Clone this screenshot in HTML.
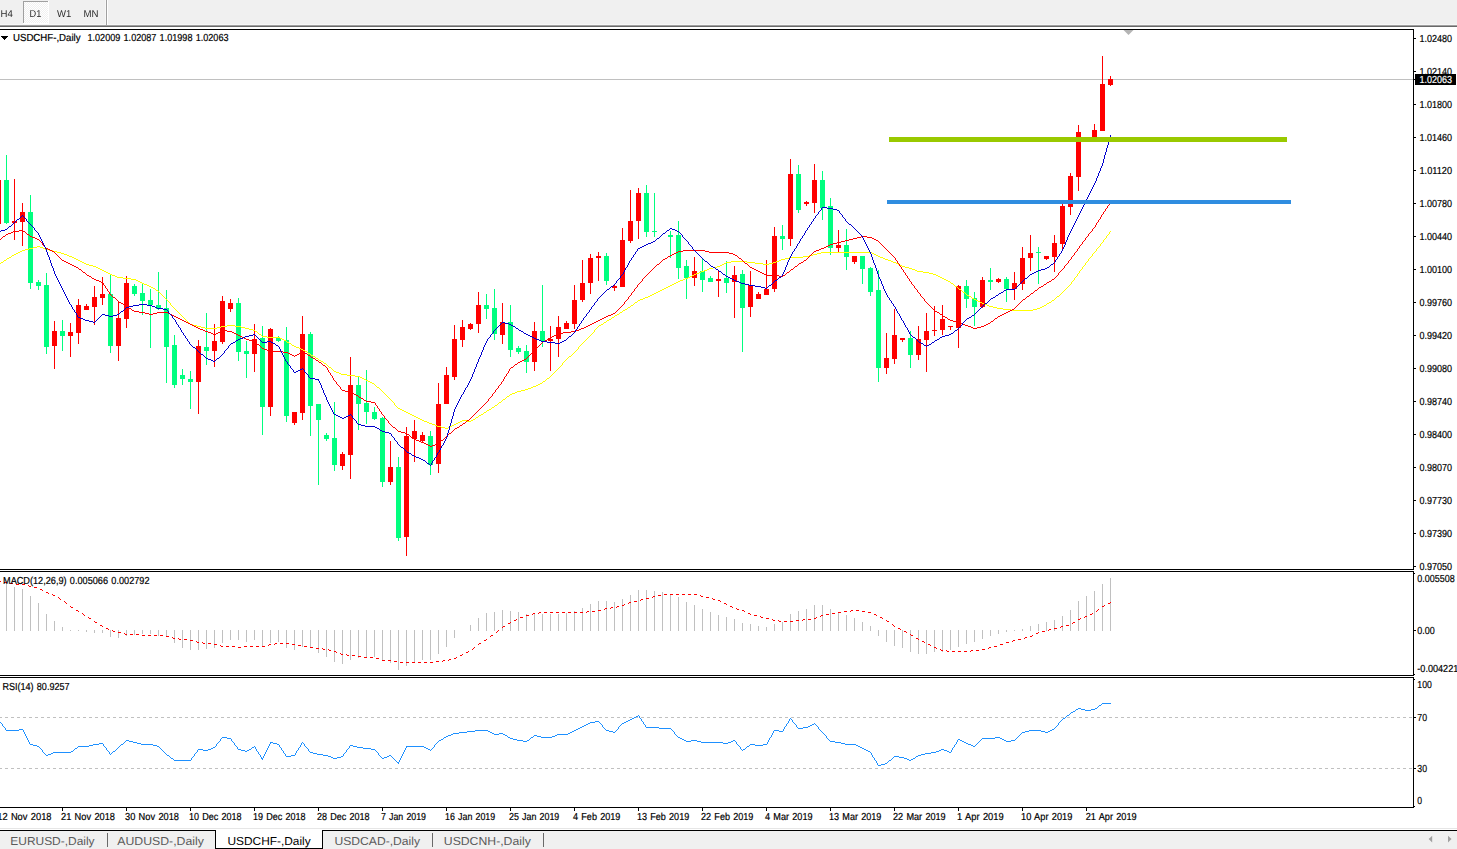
<!DOCTYPE html>
<html><head><meta charset="utf-8"><title>USDCHF-,Daily</title>
<style>
html,body{margin:0;padding:0;background:#fff;}
body{width:1457px;height:849px;overflow:hidden;position:relative;font-family:"Liberation Sans",sans-serif;}
svg{position:absolute;left:0;top:0;}
text{text-rendering:geometricPrecision;}
.t{font-family:"Liberation Sans",sans-serif;font-size:10.2px;fill:#000;stroke:#000;stroke-width:0.2px;word-spacing:0.8px;}
.tab{font-family:"Liberation Sans",sans-serif;font-size:11.6px;fill:#5a5a5a;}
.tf{font-family:"Liberation Sans",sans-serif;font-size:10px;fill:#2c2c2c;}
</style></head><body>
<svg width="1457" height="849" viewBox="0 0 1457 849">

<g shape-rendering="crispEdges">
<rect x="0" y="0" width="1457" height="25" fill="#f0f0f0"/>
<rect x="0" y="25" width="1457" height="1" fill="#a0a0a0"/>
<rect x="0" y="26" width="1457" height="1" fill="#696969"/>
<defs><pattern id="hatch" x="0" y="0" width="2" height="2" patternUnits="userSpaceOnUse"><rect x="0" y="0" width="2" height="2" fill="#f0f0f0"/><rect x="0" y="0" width="1" height="1" fill="#fff"/><rect x="1" y="1" width="1" height="1" fill="#fff"/></pattern></defs>
<rect x="24" y="2" width="24" height="21" fill="url(#hatch)"/>
<rect x="23" y="1" width="25" height="1" fill="#a0a0a0"/>
<rect x="23" y="1" width="1" height="22" fill="#a0a0a0"/>
<rect x="48" y="1" width="1" height="23" fill="#ffffff"/>
<rect x="23" y="23" width="26" height="1" fill="#ffffff"/>
<rect x="0" y="24" width="1457" height="1" fill="#f7f7f7"/>
<rect x="105" y="0" width="1" height="24" fill="#f7f7f7"/>
<rect x="106" y="0" width="1" height="25" fill="#a0a0a0"/>
<rect x="107" y="0" width="1" height="25" fill="#ffffff"/>
<rect x="0" y="29" width="1414" height="1" fill="#000"/>
<rect x="1413" y="29" width="1" height="541" fill="#000"/>
<rect x="0" y="569" width="1414" height="1" fill="#000"/>
<rect x="0" y="571" width="1414" height="1" fill="#000"/>
<rect x="1413" y="571" width="1" height="105" fill="#000"/>
<rect x="0" y="675" width="1414" height="1" fill="#000"/>
<rect x="0" y="677" width="1414" height="1" fill="#000"/>
<rect x="1413" y="677" width="1" height="131" fill="#000"/>
<rect x="0" y="807" width="1414" height="1" fill="#000"/>
<rect x="0" y="828" width="1457" height="1" fill="#e6e6e6"/>
<rect x="0" y="831" width="1457" height="18" fill="#f0f0f0"/>
<rect x="0" y="830" width="216" height="1" fill="#000"/>
<rect x="322" y="830" width="1135" height="1" fill="#000"/>
<rect x="216" y="829" width="106" height="19" fill="#fff"/>
<rect x="215" y="830" width="1" height="19" fill="#000"/>
<rect x="322" y="830" width="1" height="19" fill="#000"/>
<rect x="215" y="848" width="108" height="1" fill="#000"/>
<rect x="107" y="833" width="1" height="14" fill="#6a6a6a"/>
<rect x="432" y="833" width="1" height="14" fill="#6a6a6a"/>
<rect x="543" y="833" width="1" height="14" fill="#6a6a6a"/>
<rect x="0" y="79" width="1413" height="1" fill="#c0c0c0"/>
<rect x="1414" y="38" width="2" height="1" fill="#000"/>
<rect x="1414" y="71" width="2" height="1" fill="#000"/>
<rect x="1414" y="104" width="2" height="1" fill="#000"/>
<rect x="1414" y="137" width="2" height="1" fill="#000"/>
<rect x="1414" y="170" width="2" height="1" fill="#000"/>
<rect x="1414" y="203" width="2" height="1" fill="#000"/>
<rect x="1414" y="236" width="2" height="1" fill="#000"/>
<rect x="1414" y="269" width="2" height="1" fill="#000"/>
<rect x="1414" y="302" width="2" height="1" fill="#000"/>
<rect x="1414" y="335" width="2" height="1" fill="#000"/>
<rect x="1414" y="368" width="2" height="1" fill="#000"/>
<rect x="1414" y="401" width="2" height="1" fill="#000"/>
<rect x="1414" y="434" width="2" height="1" fill="#000"/>
<rect x="1414" y="467" width="2" height="1" fill="#000"/>
<rect x="1414" y="500" width="2" height="1" fill="#000"/>
<rect x="1414" y="533" width="2" height="1" fill="#000"/>
<rect x="1414" y="566" width="2" height="1" fill="#000"/>
<rect x="1414" y="573" width="1" height="1" fill="#000"/>
<rect x="1414" y="630" width="2" height="1" fill="#000"/>
<rect x="1414" y="674" width="1" height="1" fill="#000"/>
<rect x="1414" y="679" width="1" height="1" fill="#000"/>
<rect x="1414" y="717" width="2" height="1" fill="#000"/>
<rect x="1414" y="768" width="2" height="1" fill="#000"/>
<rect x="1414" y="806" width="1" height="1" fill="#000"/>
<rect x="62" y="808" width="1" height="3" fill="#000"/>
<rect x="126" y="808" width="1" height="3" fill="#000"/>
<rect x="190" y="808" width="1" height="3" fill="#000"/>
<rect x="254" y="808" width="1" height="3" fill="#000"/>
<rect x="318" y="808" width="1" height="3" fill="#000"/>
<rect x="382" y="808" width="1" height="3" fill="#000"/>
<rect x="446" y="808" width="1" height="3" fill="#000"/>
<rect x="510" y="808" width="1" height="3" fill="#000"/>
<rect x="574" y="808" width="1" height="3" fill="#000"/>
<rect x="638" y="808" width="1" height="3" fill="#000"/>
<rect x="702" y="808" width="1" height="3" fill="#000"/>
<rect x="766" y="808" width="1" height="3" fill="#000"/>
<rect x="830" y="808" width="1" height="3" fill="#000"/>
<rect x="894" y="808" width="1" height="3" fill="#000"/>
<rect x="958" y="808" width="1" height="3" fill="#000"/>
<rect x="1022" y="808" width="1" height="3" fill="#000"/>
<rect x="1086" y="808" width="1" height="3" fill="#000"/>
<rect x="1415" y="74" width="41" height="11" fill="#000"/>
<rect x="1414" y="79" width="1" height="1" fill="#000"/>
</g>
<polygon points="1123.5,30 1133.5,30 1128.5,35" fill="#b4b4b4"/>
<polygon points="1,36 8,36 4.5,40" fill="#000" shape-rendering="crispEdges"/>
<polygon points="1432.2,835.8 1432.2,842.4 1428.7,839.1" fill="#a0a0a0"/>
<polygon points="1448,835.8 1448,842.4 1451.5,839.1" fill="#a0a0a0"/>
<g shape-rendering="crispEdges" fill="none">
<line x1="-1" y1="717.5" x2="1413" y2="717.5" stroke="#c0c0c0" stroke-width="1" stroke-dasharray="3,3"/>
<line x1="-1" y1="768.5" x2="1413" y2="768.5" stroke="#c0c0c0" stroke-width="1" stroke-dasharray="3,3"/>
</g>
<g shape-rendering="crispEdges">
<rect x="-4" y="180" width="5" height="44" fill="#ff0000"/>
<rect x="6" y="155" width="1" height="69" fill="#00ff7f"/>
<rect x="4" y="180" width="5" height="43" fill="#00ff7f"/>
<rect x="14" y="179" width="1" height="61" fill="#ff0000"/>
<rect x="12" y="221" width="5" height="2" fill="#ff0000"/>
<rect x="22" y="203" width="1" height="43" fill="#ff0000"/>
<rect x="20" y="212" width="5" height="10" fill="#ff0000"/>
<rect x="30" y="195" width="1" height="94" fill="#00ff7f"/>
<rect x="28" y="212" width="5" height="71" fill="#00ff7f"/>
<rect x="38" y="280" width="1" height="10" fill="#00ff7f"/>
<rect x="36" y="282" width="5" height="4" fill="#00ff7f"/>
<rect x="46" y="273" width="1" height="81" fill="#00ff7f"/>
<rect x="44" y="285" width="5" height="62" fill="#00ff7f"/>
<rect x="54" y="321" width="1" height="48" fill="#ff0000"/>
<rect x="52" y="331" width="5" height="15" fill="#ff0000"/>
<rect x="62" y="320" width="1" height="31" fill="#00ff7f"/>
<rect x="60" y="331" width="5" height="5" fill="#00ff7f"/>
<rect x="70" y="323" width="1" height="34" fill="#ff0000"/>
<rect x="68" y="332" width="5" height="4" fill="#ff0000"/>
<rect x="78" y="299" width="1" height="45" fill="#ff0000"/>
<rect x="76" y="305" width="5" height="28" fill="#ff0000"/>
<rect x="86" y="304" width="1" height="6" fill="#ff0000"/>
<rect x="84" y="306" width="5" height="4" fill="#ff0000"/>
<rect x="94" y="286" width="1" height="39" fill="#ff0000"/>
<rect x="92" y="297" width="5" height="10" fill="#ff0000"/>
<rect x="102" y="277" width="1" height="28" fill="#ff0000"/>
<rect x="100" y="294" width="5" height="4" fill="#ff0000"/>
<rect x="110" y="274" width="1" height="79" fill="#00ff7f"/>
<rect x="108" y="294" width="5" height="52" fill="#00ff7f"/>
<rect x="118" y="301" width="1" height="60" fill="#ff0000"/>
<rect x="116" y="318" width="5" height="28" fill="#ff0000"/>
<rect x="126" y="276" width="1" height="52" fill="#ff0000"/>
<rect x="124" y="283" width="5" height="36" fill="#ff0000"/>
<rect x="134" y="284" width="1" height="12" fill="#00ff7f"/>
<rect x="132" y="286" width="5" height="8" fill="#00ff7f"/>
<rect x="142" y="284" width="1" height="31" fill="#00ff7f"/>
<rect x="140" y="293" width="5" height="8" fill="#00ff7f"/>
<rect x="150" y="289" width="1" height="59" fill="#00ff7f"/>
<rect x="148" y="300" width="5" height="5" fill="#00ff7f"/>
<rect x="158" y="272" width="1" height="38" fill="#00ff7f"/>
<rect x="156" y="305" width="5" height="4" fill="#00ff7f"/>
<rect x="166" y="290" width="1" height="93" fill="#00ff7f"/>
<rect x="164" y="308" width="5" height="39" fill="#00ff7f"/>
<rect x="174" y="335" width="1" height="53" fill="#00ff7f"/>
<rect x="172" y="345" width="5" height="40" fill="#00ff7f"/>
<rect x="182" y="369" width="1" height="16" fill="#00ff7f"/>
<rect x="180" y="375" width="5" height="4" fill="#00ff7f"/>
<rect x="190" y="371" width="1" height="38" fill="#00ff7f"/>
<rect x="188" y="379" width="5" height="3" fill="#00ff7f"/>
<rect x="198" y="340" width="1" height="74" fill="#ff0000"/>
<rect x="196" y="346" width="5" height="36" fill="#ff0000"/>
<rect x="206" y="313" width="1" height="52" fill="#00ff7f"/>
<rect x="204" y="347" width="5" height="4" fill="#00ff7f"/>
<rect x="214" y="324" width="1" height="43" fill="#ff0000"/>
<rect x="212" y="341" width="5" height="10" fill="#ff0000"/>
<rect x="222" y="296" width="1" height="48" fill="#ff0000"/>
<rect x="220" y="301" width="5" height="41" fill="#ff0000"/>
<rect x="230" y="299" width="1" height="13" fill="#ff0000"/>
<rect x="228" y="303" width="5" height="6" fill="#ff0000"/>
<rect x="238" y="298" width="1" height="63" fill="#00ff7f"/>
<rect x="236" y="303" width="5" height="49" fill="#00ff7f"/>
<rect x="246" y="341" width="1" height="37" fill="#00ff7f"/>
<rect x="244" y="351" width="5" height="3" fill="#00ff7f"/>
<rect x="254" y="324" width="1" height="48" fill="#ff0000"/>
<rect x="252" y="339" width="5" height="15" fill="#ff0000"/>
<rect x="262" y="326" width="1" height="109" fill="#00ff7f"/>
<rect x="260" y="338" width="5" height="69" fill="#00ff7f"/>
<rect x="270" y="328" width="1" height="88" fill="#ff0000"/>
<rect x="268" y="329" width="5" height="78" fill="#ff0000"/>
<rect x="278" y="336" width="1" height="6" fill="#00ff7f"/>
<rect x="276" y="338" width="5" height="3" fill="#00ff7f"/>
<rect x="286" y="327" width="1" height="95" fill="#00ff7f"/>
<rect x="284" y="340" width="5" height="76" fill="#00ff7f"/>
<rect x="294" y="412" width="1" height="13" fill="#ff0000"/>
<rect x="292" y="412" width="5" height="11" fill="#ff0000"/>
<rect x="302" y="316" width="1" height="104" fill="#ff0000"/>
<rect x="300" y="334" width="5" height="79" fill="#ff0000"/>
<rect x="310" y="332" width="1" height="104" fill="#00ff7f"/>
<rect x="308" y="334" width="5" height="72" fill="#00ff7f"/>
<rect x="318" y="404" width="1" height="81" fill="#00ff7f"/>
<rect x="316" y="404" width="5" height="16" fill="#00ff7f"/>
<rect x="326" y="433" width="1" height="8" fill="#00ff7f"/>
<rect x="324" y="435" width="5" height="4" fill="#00ff7f"/>
<rect x="334" y="402" width="1" height="69" fill="#00ff7f"/>
<rect x="332" y="438" width="5" height="27" fill="#00ff7f"/>
<rect x="342" y="452" width="1" height="18" fill="#ff0000"/>
<rect x="340" y="454" width="5" height="12" fill="#ff0000"/>
<rect x="350" y="357" width="1" height="122" fill="#ff0000"/>
<rect x="348" y="385" width="5" height="70" fill="#ff0000"/>
<rect x="358" y="377" width="1" height="53" fill="#00ff7f"/>
<rect x="356" y="385" width="5" height="19" fill="#00ff7f"/>
<rect x="366" y="370" width="1" height="54" fill="#00ff7f"/>
<rect x="364" y="403" width="5" height="9" fill="#00ff7f"/>
<rect x="374" y="407" width="1" height="13" fill="#00ff7f"/>
<rect x="372" y="412" width="5" height="7" fill="#00ff7f"/>
<rect x="382" y="417" width="1" height="70" fill="#00ff7f"/>
<rect x="380" y="418" width="5" height="64" fill="#00ff7f"/>
<rect x="390" y="441" width="1" height="44" fill="#ff0000"/>
<rect x="388" y="467" width="5" height="15" fill="#ff0000"/>
<rect x="398" y="457" width="1" height="84" fill="#00ff7f"/>
<rect x="396" y="467" width="5" height="71" fill="#00ff7f"/>
<rect x="406" y="427" width="1" height="129" fill="#ff0000"/>
<rect x="404" y="436" width="5" height="101" fill="#ff0000"/>
<rect x="414" y="420" width="1" height="42" fill="#ff0000"/>
<rect x="412" y="431" width="5" height="8" fill="#ff0000"/>
<rect x="422" y="432" width="1" height="10" fill="#ff0000"/>
<rect x="420" y="435" width="5" height="6" fill="#ff0000"/>
<rect x="430" y="431" width="1" height="44" fill="#00ff7f"/>
<rect x="428" y="436" width="5" height="29" fill="#00ff7f"/>
<rect x="438" y="383" width="1" height="90" fill="#ff0000"/>
<rect x="436" y="404" width="5" height="60" fill="#ff0000"/>
<rect x="446" y="367" width="1" height="37" fill="#ff0000"/>
<rect x="444" y="375" width="5" height="29" fill="#ff0000"/>
<rect x="454" y="325" width="1" height="55" fill="#ff0000"/>
<rect x="452" y="339" width="5" height="38" fill="#ff0000"/>
<rect x="462" y="320" width="1" height="27" fill="#ff0000"/>
<rect x="460" y="327" width="5" height="13" fill="#ff0000"/>
<rect x="470" y="323" width="1" height="7" fill="#ff0000"/>
<rect x="468" y="324" width="5" height="5" fill="#ff0000"/>
<rect x="478" y="292" width="1" height="41" fill="#ff0000"/>
<rect x="476" y="305" width="5" height="19" fill="#ff0000"/>
<rect x="486" y="294" width="1" height="25" fill="#00ff7f"/>
<rect x="484" y="305" width="5" height="4" fill="#00ff7f"/>
<rect x="494" y="289" width="1" height="51" fill="#00ff7f"/>
<rect x="492" y="308" width="5" height="26" fill="#00ff7f"/>
<rect x="502" y="303" width="1" height="41" fill="#ff0000"/>
<rect x="500" y="322" width="5" height="13" fill="#ff0000"/>
<rect x="510" y="305" width="1" height="52" fill="#00ff7f"/>
<rect x="508" y="322" width="5" height="28" fill="#00ff7f"/>
<rect x="518" y="346" width="1" height="8" fill="#00ff7f"/>
<rect x="516" y="348" width="5" height="4" fill="#00ff7f"/>
<rect x="526" y="345" width="1" height="28" fill="#00ff7f"/>
<rect x="524" y="351" width="5" height="11" fill="#00ff7f"/>
<rect x="534" y="322" width="1" height="49" fill="#ff0000"/>
<rect x="532" y="331" width="5" height="31" fill="#ff0000"/>
<rect x="542" y="285" width="1" height="62" fill="#00ff7f"/>
<rect x="540" y="331" width="5" height="10" fill="#00ff7f"/>
<rect x="550" y="326" width="1" height="45" fill="#ff0000"/>
<rect x="548" y="339" width="5" height="2" fill="#ff0000"/>
<rect x="558" y="316" width="1" height="41" fill="#ff0000"/>
<rect x="556" y="327" width="5" height="12" fill="#ff0000"/>
<rect x="566" y="321" width="1" height="8" fill="#ff0000"/>
<rect x="564" y="323" width="5" height="6" fill="#ff0000"/>
<rect x="574" y="285" width="1" height="44" fill="#ff0000"/>
<rect x="572" y="300" width="5" height="24" fill="#ff0000"/>
<rect x="582" y="260" width="1" height="42" fill="#ff0000"/>
<rect x="580" y="283" width="5" height="17" fill="#ff0000"/>
<rect x="590" y="254" width="1" height="40" fill="#ff0000"/>
<rect x="588" y="258" width="5" height="25" fill="#ff0000"/>
<rect x="598" y="252" width="1" height="29" fill="#ff0000"/>
<rect x="596" y="256" width="5" height="2" fill="#ff0000"/>
<rect x="606" y="253" width="1" height="32" fill="#00ff7f"/>
<rect x="604" y="256" width="5" height="25" fill="#00ff7f"/>
<rect x="614" y="284" width="1" height="7" fill="#ff0000"/>
<rect x="612" y="286" width="5" height="2" fill="#ff0000"/>
<rect x="622" y="228" width="1" height="59" fill="#ff0000"/>
<rect x="620" y="240" width="5" height="47" fill="#ff0000"/>
<rect x="630" y="190" width="1" height="53" fill="#ff0000"/>
<rect x="628" y="221" width="5" height="20" fill="#ff0000"/>
<rect x="638" y="188" width="1" height="51" fill="#ff0000"/>
<rect x="636" y="193" width="5" height="28" fill="#ff0000"/>
<rect x="646" y="185" width="1" height="52" fill="#00ff7f"/>
<rect x="644" y="193" width="5" height="39" fill="#00ff7f"/>
<rect x="654" y="193" width="1" height="44" fill="#00ff7f"/>
<rect x="652" y="231" width="5" height="1" fill="#00ff7f"/>
<rect x="670" y="231" width="1" height="27" fill="#00ff7f"/>
<rect x="668" y="235" width="5" height="2" fill="#00ff7f"/>
<rect x="678" y="221" width="1" height="58" fill="#00ff7f"/>
<rect x="676" y="235" width="5" height="33" fill="#00ff7f"/>
<rect x="686" y="260" width="1" height="39" fill="#00ff7f"/>
<rect x="684" y="266" width="5" height="12" fill="#00ff7f"/>
<rect x="694" y="257" width="1" height="29" fill="#ff0000"/>
<rect x="692" y="271" width="5" height="7" fill="#ff0000"/>
<rect x="702" y="258" width="1" height="34" fill="#00ff7f"/>
<rect x="700" y="271" width="5" height="9" fill="#00ff7f"/>
<rect x="710" y="276" width="1" height="6" fill="#00ff7f"/>
<rect x="708" y="278" width="5" height="4" fill="#00ff7f"/>
<rect x="718" y="270" width="1" height="27" fill="#ff0000"/>
<rect x="716" y="279" width="5" height="2" fill="#ff0000"/>
<rect x="726" y="261" width="1" height="32" fill="#00ff7f"/>
<rect x="724" y="278" width="5" height="5" fill="#00ff7f"/>
<rect x="734" y="266" width="1" height="52" fill="#ff0000"/>
<rect x="732" y="275" width="5" height="7" fill="#ff0000"/>
<rect x="742" y="270" width="1" height="82" fill="#00ff7f"/>
<rect x="740" y="274" width="5" height="34" fill="#00ff7f"/>
<rect x="750" y="271" width="1" height="46" fill="#ff0000"/>
<rect x="748" y="285" width="5" height="22" fill="#ff0000"/>
<rect x="758" y="292" width="1" height="7" fill="#ff0000"/>
<rect x="756" y="294" width="5" height="5" fill="#ff0000"/>
<rect x="766" y="260" width="1" height="35" fill="#ff0000"/>
<rect x="764" y="289" width="5" height="6" fill="#ff0000"/>
<rect x="774" y="227" width="1" height="65" fill="#ff0000"/>
<rect x="772" y="236" width="5" height="53" fill="#ff0000"/>
<rect x="782" y="225" width="1" height="25" fill="#00ff7f"/>
<rect x="780" y="236" width="5" height="3" fill="#00ff7f"/>
<rect x="790" y="159" width="1" height="87" fill="#ff0000"/>
<rect x="788" y="174" width="5" height="65" fill="#ff0000"/>
<rect x="798" y="165" width="1" height="48" fill="#00ff7f"/>
<rect x="796" y="174" width="5" height="36" fill="#00ff7f"/>
<rect x="806" y="201" width="1" height="5" fill="#ff0000"/>
<rect x="804" y="202" width="5" height="2" fill="#ff0000"/>
<rect x="814" y="164" width="1" height="49" fill="#ff0000"/>
<rect x="812" y="180" width="5" height="23" fill="#ff0000"/>
<rect x="822" y="171" width="1" height="49" fill="#00ff7f"/>
<rect x="820" y="180" width="5" height="28" fill="#00ff7f"/>
<rect x="830" y="198" width="1" height="57" fill="#00ff7f"/>
<rect x="828" y="206" width="5" height="42" fill="#00ff7f"/>
<rect x="838" y="230" width="1" height="22" fill="#ff0000"/>
<rect x="836" y="245" width="5" height="3" fill="#ff0000"/>
<rect x="846" y="229" width="1" height="41" fill="#00ff7f"/>
<rect x="844" y="245" width="5" height="12" fill="#00ff7f"/>
<rect x="854" y="256" width="1" height="8" fill="#ff0000"/>
<rect x="852" y="256" width="5" height="6" fill="#ff0000"/>
<rect x="862" y="256" width="1" height="28" fill="#00ff7f"/>
<rect x="860" y="256" width="5" height="13" fill="#00ff7f"/>
<rect x="870" y="267" width="1" height="29" fill="#00ff7f"/>
<rect x="868" y="268" width="5" height="24" fill="#00ff7f"/>
<rect x="878" y="270" width="1" height="112" fill="#00ff7f"/>
<rect x="876" y="290" width="5" height="78" fill="#00ff7f"/>
<rect x="886" y="333" width="1" height="41" fill="#ff0000"/>
<rect x="884" y="358" width="5" height="10" fill="#ff0000"/>
<rect x="894" y="309" width="1" height="55" fill="#ff0000"/>
<rect x="892" y="335" width="5" height="24" fill="#ff0000"/>
<rect x="902" y="338" width="1" height="4" fill="#ff0000"/>
<rect x="900" y="338" width="5" height="2" fill="#ff0000"/>
<rect x="910" y="331" width="1" height="37" fill="#00ff7f"/>
<rect x="908" y="338" width="5" height="17" fill="#00ff7f"/>
<rect x="918" y="326" width="1" height="34" fill="#ff0000"/>
<rect x="916" y="339" width="5" height="16" fill="#ff0000"/>
<rect x="926" y="313" width="1" height="59" fill="#ff0000"/>
<rect x="924" y="331" width="5" height="9" fill="#ff0000"/>
<rect x="934" y="306" width="1" height="30" fill="#ff0000"/>
<rect x="932" y="330" width="5" height="1" fill="#ff0000"/>
<rect x="942" y="305" width="1" height="30" fill="#ff0000"/>
<rect x="940" y="319" width="5" height="11" fill="#ff0000"/>
<rect x="950" y="326" width="1" height="4" fill="#ff0000"/>
<rect x="948" y="326" width="5" height="1" fill="#ff0000"/>
<rect x="958" y="285" width="1" height="63" fill="#ff0000"/>
<rect x="956" y="286" width="5" height="42" fill="#ff0000"/>
<rect x="966" y="280" width="1" height="28" fill="#00ff7f"/>
<rect x="964" y="286" width="5" height="13" fill="#00ff7f"/>
<rect x="974" y="292" width="1" height="34" fill="#00ff7f"/>
<rect x="972" y="298" width="5" height="9" fill="#00ff7f"/>
<rect x="982" y="277" width="1" height="31" fill="#ff0000"/>
<rect x="980" y="280" width="5" height="27" fill="#ff0000"/>
<rect x="990" y="268" width="1" height="22" fill="#00ff7f"/>
<rect x="988" y="280" width="5" height="2" fill="#00ff7f"/>
<rect x="998" y="278" width="1" height="5" fill="#ff0000"/>
<rect x="996" y="279" width="5" height="3" fill="#ff0000"/>
<rect x="1006" y="277" width="1" height="25" fill="#00ff7f"/>
<rect x="1004" y="279" width="5" height="10" fill="#00ff7f"/>
<rect x="1014" y="272" width="1" height="28" fill="#ff0000"/>
<rect x="1012" y="283" width="5" height="6" fill="#ff0000"/>
<rect x="1022" y="247" width="1" height="43" fill="#ff0000"/>
<rect x="1020" y="258" width="5" height="26" fill="#ff0000"/>
<rect x="1030" y="235" width="1" height="36" fill="#ff0000"/>
<rect x="1028" y="253" width="5" height="5" fill="#ff0000"/>
<rect x="1038" y="247" width="1" height="37" fill="#00ff7f"/>
<rect x="1036" y="252" width="5" height="1" fill="#00ff7f"/>
<rect x="1046" y="256" width="1" height="4" fill="#ff0000"/>
<rect x="1044" y="256" width="5" height="3" fill="#ff0000"/>
<rect x="1054" y="235" width="1" height="37" fill="#ff0000"/>
<rect x="1052" y="243" width="5" height="14" fill="#ff0000"/>
<rect x="1062" y="204" width="1" height="46" fill="#ff0000"/>
<rect x="1060" y="206" width="5" height="38" fill="#ff0000"/>
<rect x="1070" y="173" width="1" height="42" fill="#ff0000"/>
<rect x="1068" y="176" width="5" height="31" fill="#ff0000"/>
<rect x="1078" y="125" width="1" height="66" fill="#ff0000"/>
<rect x="1076" y="132" width="5" height="45" fill="#ff0000"/>
<rect x="1094" y="124" width="1" height="15" fill="#ff0000"/>
<rect x="1092" y="130" width="5" height="9" fill="#ff0000"/>
<rect x="1102" y="56" width="1" height="75" fill="#ff0000"/>
<rect x="1100" y="84" width="5" height="47" fill="#ff0000"/>
<rect x="1110" y="76" width="1" height="10" fill="#ff0000"/>
<rect x="1108" y="79" width="5" height="6" fill="#ff0000"/>
</g>
<g shape-rendering="crispEdges">
<path d="M37 246.5h3M33 247.5h4M40 247.5h3M29 248.5h4M43 248.5h2M25 249.5h4M45 249.5h4M22 250.5h3M49 250.5h4M20 251.5h2M53 251.5h4M18 252.5h2M57 252.5h4M821 252.5h51M16 253.5h2M61 253.5h3M817 253.5h4M872 253.5h2M14 254.5h2M64 254.5h3M813 254.5h4M874 254.5h2M12 255.5h2M67 255.5h2M809 255.5h4M876 255.5h2M69 256.5h3M803 256.5h6M878 256.5h2M9 257.5h2M72 257.5h2M789 257.5h14M880 257.5h3M7 258.5h2M74 258.5h2M785 258.5h4M883 258.5h2M76 259.5h2M781 259.5h4M885 259.5h3M4 260.5h2M78 260.5h2M779 260.5h2M888 260.5h3M80 261.5h2M731 261.5h16M776 261.5h3M891 261.5h2M1 262.5h2M82 262.5h2M726 262.5h5M747 262.5h8M773 262.5h3M893 262.5h3M84 263.5h2M724 263.5h2M755 263.5h8M769 263.5h4M896 263.5h2M86 264.5h3M722 264.5h2M763 264.5h6M898 264.5h2M89 265.5h4M720 265.5h2M900 265.5h2M93 266.5h3M717 266.5h3M902 266.5h3M96 267.5h2M713 267.5h4M905 267.5h4M98 268.5h2M709 268.5h4M909 268.5h3M100 269.5h2M707 269.5h2M912 269.5h3M102 270.5h2M704 270.5h3M915 270.5h2M104 271.5h2M701 271.5h3M917 271.5h6M106 272.5h2M699 272.5h2M923 272.5h6M108 273.5h2M696 273.5h3M929 273.5h4M110 274.5h2M694 274.5h2M933 274.5h3M112 275.5h3M692 275.5h2M936 275.5h2M115 276.5h2M690 276.5h2M938 276.5h2M117 277.5h6M688 277.5h2M940 277.5h2M123 278.5h8M685 278.5h3M942 278.5h2M131 279.5h5M683 279.5h2M944 279.5h2M136 280.5h2M680 280.5h3M946 280.5h2M138 281.5h2M678 281.5h2M948 281.5h2M140 282.5h2M676 282.5h2M142 283.5h2M674 283.5h2M951 283.5h2M144 284.5h3M672 284.5h2M147 285.5h2M670 285.5h2M149 286.5h2M668 286.5h2M955 286.5h2M151 287.5h2M666 287.5h2M153 288.5h2M664 288.5h2M662 289.5h2M959 289.5h2M156 290.5h2M660 290.5h2M658 291.5h2M656 292.5h2M963 292.5h2M654 293.5h2M652 294.5h2M650 295.5h2M967 295.5h2M648 296.5h2M969 296.5h2M1057 296.5h2M645 297.5h3M643 298.5h2M972 298.5h2M640 299.5h3M974 299.5h2M638 300.5h2M976 300.5h2M1052 300.5h2M978 301.5h2M635 302.5h2M980 302.5h2M1049 302.5h2M982 303.5h2M1047 303.5h2M984 304.5h3M631 305.5h2M987 305.5h2M1044 305.5h2M989 306.5h4M1042 306.5h2M628 307.5h2M993 307.5h4M1040 307.5h2M997 308.5h6M1037 308.5h3M625 309.5h2M1003 309.5h8M1033 309.5h4M623 310.5h2M1011 310.5h22M620 312.5h2M617 314.5h2M615 315.5h2M612 317.5h2M609 319.5h2M607 320.5h2M604 322.5h2M190 324.5h3M601 324.5h2M193 325.5h4M227 325.5h8M599 325.5h2M197 326.5h4M221 326.5h6M235 326.5h6M201 327.5h4M217 327.5h4M241 327.5h4M205 328.5h12M245 328.5h4M249 329.5h4M253 330.5h2M255 331.5h2M259 334.5h2M262 336.5h5M267 337.5h13M280 338.5h2M282 339.5h2M284 340.5h2M287 342.5h2M289 343.5h2M292 345.5h2M294 346.5h2M296 347.5h3M299 348.5h2M301 349.5h2M303 350.5h2M305 351.5h2M308 353.5h2M311 355.5h2M313 356.5h2M569 356.5h2M316 358.5h2M319 360.5h2M321 361.5h2M324 363.5h2M329 367.5h2M334 371.5h2M336 372.5h3M339 373.5h2M341 374.5h6M347 375.5h8M355 376.5h5M360 377.5h2M362 378.5h2M547 378.5h2M364 379.5h2M366 380.5h2M368 381.5h2M543 381.5h2M370 382.5h2M372 383.5h2M540 383.5h2M538 384.5h2M536 385.5h2M533 386.5h3M377 387.5h2M531 387.5h2M528 388.5h3M525 389.5h3M521 390.5h4M517 391.5h4M515 392.5h2M512 393.5h3M510 394.5h2M507 396.5h2M503 399.5h2M499 402.5h2M495 405.5h2M492 407.5h2M398 408.5h2M400 409.5h2M489 409.5h2M402 410.5h2M487 410.5h2M404 411.5h2M406 412.5h2M484 412.5h2M408 413.5h2M410 414.5h2M481 414.5h2M412 415.5h2M479 415.5h2M414 416.5h2M416 417.5h2M476 417.5h2M418 418.5h2M420 419.5h2M473 419.5h2M422 420.5h2M462 420.5h5M471 420.5h2M424 421.5h3M460 421.5h2M467 421.5h4M427 422.5h2M458 422.5h2M429 423.5h3M456 423.5h2M432 424.5h3M454 424.5h2M435 425.5h2M452 425.5h2M437 426.5h4M450 426.5h2M441 427.5h4M448 427.5h2M445 428.5h3M0.5 263v1M3.5 261v1M6.5 259v1M11.5 256v1M155.5 289v1M158.5 291v1M159.5 292v1M160.5 293v1M161.5 294v1M162.5 295v1M163.5 296v1M164.5 297v1M165.5 298v1M166.5 299v1M167.5 300v1M168.5 301v1M169.5 302v1M170.5 303v2M171.5 305v1M172.5 306v1M173.5 307v1M174.5 308v1M175.5 309v1M176.5 310v1M177.5 311v1M178.5 312v1M179.5 313v1M180.5 314v1M181.5 315v1M182.5 316v1M183.5 317v1M184.5 318v1M185.5 319v1M186.5 320v1M187.5 321v1M188.5 322v1M189.5 323v1M257.5 332v1M258.5 333v1M261.5 335v1M286.5 341v1M291.5 344v1M307.5 352v1M310.5 354v1M315.5 357v1M318.5 359v1M323.5 362v1M326.5 364v1M327.5 365v1M328.5 366v1M331.5 368v1M332.5 369v1M333.5 370v1M374.5 384v1M375.5 385v1M376.5 386v1M379.5 388v1M380.5 389v1M381.5 390v1M382.5 391v1M383.5 392v1M384.5 393v1M385.5 394v1M386.5 395v1M387.5 396v1M388.5 397v1M389.5 398v1M390.5 399v1M391.5 400v1M392.5 401v1M393.5 402v1M394.5 403v2M395.5 405v1M396.5 406v1M397.5 407v1M475.5 418v1M478.5 416v1M483.5 413v1M486.5 411v1M491.5 408v1M494.5 406v1M497.5 404v1M498.5 403v1M501.5 401v1M502.5 400v1M505.5 398v1M506.5 397v1M509.5 395v1M542.5 382v1M545.5 380v1M546.5 379v1M549.5 377v1M550.5 376v1M551.5 375v1M552.5 374v1M553.5 373v1M554.5 372v1M555.5 371v1M556.5 370v1M557.5 369v1M558.5 368v1M559.5 367v1M560.5 366v1M561.5 365v1M562.5 363v2M563.5 362v1M564.5 361v1M565.5 360v1M566.5 359v1M567.5 358v1M568.5 357v1M571.5 355v1M572.5 354v1M573.5 353v1M574.5 352v1M575.5 351v1M576.5 350v1M577.5 349v1M578.5 347v2M579.5 346v1M580.5 345v1M581.5 344v1M582.5 343v1M583.5 342v1M584.5 341v1M585.5 340v1M586.5 339v1M587.5 338v1M588.5 337v1M589.5 336v1M590.5 335v1M591.5 334v1M592.5 333v1M593.5 332v1M594.5 330v2M595.5 329v1M596.5 328v1M597.5 327v1M598.5 326v1M603.5 323v1M606.5 321v1M611.5 318v1M614.5 316v1M619.5 313v1M622.5 311v1M627.5 308v1M630.5 306v1M633.5 304v1M634.5 303v1M637.5 301v1M950.5 282v1M953.5 284v1M954.5 285v1M957.5 287v1M958.5 288v1M961.5 290v1M962.5 291v1M965.5 293v1M966.5 294v1M971.5 297v1M1046.5 304v1M1051.5 301v1M1054.5 299v1M1055.5 298v1M1056.5 297v1M1059.5 295v1M1060.5 294v1M1061.5 293v1M1062.5 292v1M1063.5 291v1M1064.5 290v1M1065.5 289v1M1066.5 288v1M1067.5 287v1M1068.5 286v1M1069.5 285v1M1070.5 284v1M1071.5 282v2M1072.5 281v1M1073.5 280v1M1074.5 278v2M1075.5 277v1M1076.5 276v1M1077.5 274v2M1078.5 273v1M1079.5 271v2M1080.5 270v1M1081.5 269v1M1082.5 267v2M1083.5 266v1M1084.5 265v1M1085.5 263v2M1086.5 262v1M1087.5 261v1M1088.5 259v2M1089.5 258v1M1090.5 257v1M1091.5 256v1M1092.5 254v2M1093.5 253v1M1094.5 252v1M1095.5 251v1M1096.5 249v2M1097.5 248v1M1098.5 247v1M1099.5 246v1M1100.5 244v2M1101.5 243v1M1102.5 242v1M1103.5 240v2M1104.5 239v1M1105.5 238v1M1106.5 236v2M1107.5 235v1M1108.5 234v1M1109.5 232v2M1110.5 231v1" fill="none" stroke="#ffff00" stroke-width="1"/>
<path d="M19 230.5h4M13 231.5h6M23 231.5h2M11 232.5h2M8 233.5h3M6 234.5h2M27 234.5h2M3 236.5h2M30 236.5h2M861 236.5h6M32 237.5h3M857 237.5h4M867 237.5h5M35 238.5h2M853 238.5h4M872 238.5h2M37 239.5h2M849 239.5h4M874 239.5h2M845 240.5h4M876 240.5h2M841 241.5h4M837 242.5h4M833 243.5h4M830 244.5h3M828 245.5h2M826 246.5h2M824 247.5h2M46 248.5h2M821 248.5h3M48 249.5h2M819 249.5h2M50 250.5h2M683 250.5h22M816 250.5h3M52 251.5h2M678 251.5h5M705 251.5h4M814 251.5h2M676 252.5h2M709 252.5h20M674 253.5h2M729 253.5h4M672 254.5h2M733 254.5h2M670 255.5h2M735 255.5h2M668 256.5h2M665 258.5h2M739 258.5h2M663 259.5h2M62 260.5h2M804 260.5h2M64 261.5h2M66 262.5h2M801 262.5h2M68 263.5h2M745 263.5h2M799 263.5h2M70 264.5h2M657 264.5h2M72 265.5h2M74 266.5h2M795 266.5h2M76 267.5h2M750 267.5h2M752 268.5h2M79 269.5h2M754 269.5h2M791 269.5h2M756 270.5h2M758 271.5h2M83 272.5h2M760 272.5h2M787 272.5h2M762 273.5h2M764 274.5h2M87 275.5h2M766 275.5h13M783 275.5h2M89 276.5h2M779 276.5h4M92 278.5h2M94 279.5h2M1052 279.5h2M96 280.5h3M99 281.5h2M1049 281.5h2M101 282.5h2M1047 282.5h2M1044 284.5h2M1041 286.5h2M1039 287.5h2M1035 290.5h2M1031 293.5h2M1027 296.5h2M113 297.5h2M1023 299.5h2M119 302.5h2M121 303.5h2M124 305.5h2M127 307.5h2M129 308.5h2M1012 309.5h2M132 310.5h2M1010 310.5h2M134 311.5h5M935 311.5h2M1008 311.5h2M139 312.5h6M157 312.5h11M937 312.5h2M1006 312.5h2M145 313.5h4M153 313.5h4M168 313.5h2M613 313.5h2M1004 313.5h2M149 314.5h4M170 314.5h2M611 314.5h2M940 314.5h2M1002 314.5h2M172 315.5h2M608 315.5h3M1000 315.5h2M174 316.5h2M606 316.5h2M943 316.5h2M998 316.5h2M176 317.5h2M604 317.5h2M945 317.5h2M178 318.5h2M602 318.5h2M995 318.5h2M180 319.5h2M600 319.5h2M948 319.5h2M182 320.5h2M598 320.5h2M950 320.5h3M184 321.5h2M596 321.5h2M953 321.5h4M991 321.5h2M186 322.5h2M594 322.5h2M957 322.5h3M188 323.5h2M592 323.5h2M960 323.5h3M988 323.5h2M190 324.5h2M590 324.5h2M963 324.5h2M986 324.5h2M192 325.5h2M588 325.5h2M965 325.5h3M984 325.5h2M194 326.5h2M586 326.5h2M968 326.5h3M981 326.5h3M196 327.5h2M584 327.5h2M971 327.5h2M977 327.5h4M198 328.5h2M581 328.5h3M973 328.5h4M200 329.5h3M579 329.5h2M203 330.5h2M222 330.5h5M576 330.5h3M205 331.5h3M220 331.5h2M227 331.5h5M571 331.5h5M208 332.5h3M218 332.5h2M232 332.5h2M563 332.5h8M211 333.5h2M216 333.5h2M234 333.5h2M558 333.5h5M213 334.5h3M236 334.5h2M556 334.5h2M238 335.5h2M554 335.5h2M240 336.5h2M552 336.5h2M242 337.5h2M550 337.5h2M244 338.5h2M548 338.5h2M246 339.5h3M249 340.5h4M545 340.5h2M253 341.5h2M543 341.5h2M257 344.5h2M262 348.5h2M264 349.5h3M267 350.5h2M269 351.5h14M283 352.5h5M300 352.5h2M303 352.5h2M288 353.5h2M305 353.5h2M290 354.5h2M297 354.5h2M292 355.5h2M295 355.5h2M308 355.5h2M311 357.5h2M313 358.5h2M524 359.5h2M316 360.5h2M522 360.5h2M520 361.5h2M319 362.5h2M518 362.5h2M515 364.5h2M323 365.5h2M511 367.5h2M342 390.5h3M345 391.5h4M349 392.5h3M352 393.5h2M354 394.5h2M356 395.5h2M359 397.5h2M361 398.5h2M364 400.5h2M366 401.5h5M371 402.5h4M467 420.5h2M463 423.5h2M460 425.5h2M393 427.5h2M457 427.5h2M455 428.5h2M398 431.5h3M401 432.5h4M405 433.5h2M449 433.5h2M407 434.5h2M411 437.5h2M414 439.5h2M416 440.5h3M441 440.5h2M419 441.5h2M421 442.5h3M424 443.5h2M437 443.5h2M426 444.5h2M435 444.5h2M428 445.5h2M432 445.5h3M430 446.5h2M0.5 239v1M1.5 238v1M2.5 237v1M5.5 235v1M25.5 232v1M26.5 233v1M29.5 235v1M39.5 240v1M40.5 241v1M41.5 242v1M42.5 243v2M43.5 245v1M44.5 246v1M45.5 247v1M54.5 252v1M55.5 253v1M56.5 254v1M57.5 255v1M58.5 256v1M59.5 257v1M60.5 258v1M61.5 259v1M78.5 268v1M81.5 270v1M82.5 271v1M85.5 273v1M86.5 274v1M91.5 277v1M103.5 283v2M104.5 285v1M105.5 286v2M106.5 288v1M107.5 289v2M108.5 291v1M109.5 292v2M110.5 294v1M111.5 295v1M112.5 296v1M115.5 298v1M116.5 299v1M117.5 300v1M118.5 301v1M123.5 304v1M126.5 306v1M131.5 309v1M255.5 342v1M256.5 343v1M259.5 345v1M260.5 346v1M261.5 347v1M294.5 356v1M299.5 353v1M302.5 351v1M307.5 354v1M310.5 356v1M315.5 359v1M318.5 361v1M321.5 363v1M322.5 364v1M325.5 366v1M326.5 367v1M327.5 368v2M328.5 370v2M329.5 372v1M330.5 373v2M331.5 375v1M332.5 376v2M333.5 378v2M334.5 380v1M335.5 381v1M336.5 382v2M337.5 384v1M338.5 385v1M339.5 386v1M340.5 387v2M341.5 389v1M358.5 396v1M363.5 399v1M375.5 403v2M376.5 405v1M377.5 406v2M378.5 408v1M379.5 409v2M380.5 411v1M381.5 412v2M382.5 414v1M383.5 415v1M384.5 416v2M385.5 418v1M386.5 419v1M387.5 420v1M388.5 421v2M389.5 423v1M390.5 424v1M391.5 425v1M392.5 426v1M395.5 428v1M396.5 429v1M397.5 430v1M409.5 435v1M410.5 436v1M413.5 438v1M439.5 442v1M440.5 441v1M443.5 439v1M444.5 438v1M445.5 437v1M446.5 436v1M447.5 435v1M448.5 434v1M451.5 432v1M452.5 431v1M453.5 430v1M454.5 429v1M459.5 426v1M462.5 424v1M465.5 422v1M466.5 421v1M469.5 419v1M470.5 418v1M471.5 417v1M472.5 416v1M473.5 415v1M474.5 414v1M475.5 413v1M476.5 412v1M477.5 411v1M478.5 410v1M479.5 409v1M480.5 408v1M481.5 407v1M482.5 406v1M483.5 405v1M484.5 404v1M485.5 403v1M486.5 402v1M487.5 401v1M488.5 399v2M489.5 398v1M490.5 397v1M491.5 396v1M492.5 394v2M493.5 393v1M494.5 392v1M495.5 390v2M496.5 389v1M497.5 388v1M498.5 386v2M499.5 385v1M500.5 384v1M501.5 382v2M502.5 381v1M503.5 379v2M504.5 377v2M505.5 376v1M506.5 374v2M507.5 373v1M508.5 371v2M509.5 369v2M510.5 368v1M513.5 366v1M514.5 365v1M517.5 363v1M526.5 358v1M527.5 357v1M528.5 356v1M529.5 355v1M530.5 354v1M531.5 353v1M532.5 352v1M533.5 351v1M534.5 350v1M535.5 349v1M536.5 348v1M537.5 347v1M538.5 346v1M539.5 345v1M540.5 344v1M541.5 343v1M542.5 342v1M547.5 339v1M615.5 312v1M616.5 311v1M617.5 310v1M618.5 309v1M619.5 308v1M620.5 307v1M621.5 306v1M622.5 305v1M623.5 304v1M624.5 302v2M625.5 301v1M626.5 300v1M627.5 299v1M628.5 297v2M629.5 296v1M630.5 295v1M631.5 293v2M632.5 292v1M633.5 291v1M634.5 289v2M635.5 288v1M636.5 287v1M637.5 285v2M638.5 284v1M639.5 283v1M640.5 282v1M641.5 281v1M642.5 279v2M643.5 278v1M644.5 277v1M645.5 276v1M646.5 275v1M647.5 274v1M648.5 273v1M649.5 272v1M650.5 271v1M651.5 270v1M652.5 269v1M653.5 268v1M654.5 267v1M655.5 266v1M656.5 265v1M659.5 263v1M660.5 262v1M661.5 261v1M662.5 260v1M667.5 257v1M737.5 256v1M738.5 257v1M741.5 259v1M742.5 260v1M743.5 261v1M744.5 262v1M747.5 264v1M748.5 265v1M749.5 266v1M785.5 274v1M786.5 273v1M789.5 271v1M790.5 270v1M793.5 268v1M794.5 267v1M797.5 265v1M798.5 264v1M803.5 261v1M806.5 259v1M807.5 258v1M808.5 257v1M809.5 256v1M810.5 255v1M811.5 254v1M812.5 253v1M813.5 252v1M878.5 241v1M879.5 242v1M880.5 243v1M881.5 244v1M882.5 245v1M883.5 246v1M884.5 247v1M885.5 248v1M886.5 249v1M887.5 250v1M888.5 251v1M889.5 252v1M890.5 253v1M891.5 254v1M892.5 255v1M893.5 256v1M894.5 257v1M895.5 258v2M896.5 260v1M897.5 261v2M898.5 263v1M899.5 264v2M900.5 266v1M901.5 267v2M902.5 269v1M903.5 270v2M904.5 272v1M905.5 273v2M906.5 275v1M907.5 276v2M908.5 278v1M909.5 279v2M910.5 281v1M911.5 282v2M912.5 284v1M913.5 285v1M914.5 286v2M915.5 288v1M916.5 289v1M917.5 290v2M918.5 292v1M919.5 293v1M920.5 294v2M921.5 296v1M922.5 297v1M923.5 298v1M924.5 299v2M925.5 301v1M926.5 302v1M927.5 303v1M928.5 304v1M929.5 305v1M930.5 306v1M931.5 307v1M932.5 308v1M933.5 309v1M934.5 310v1M939.5 313v1M942.5 315v1M947.5 318v1M990.5 322v1M993.5 320v1M994.5 319v1M997.5 317v1M1014.5 308v1M1015.5 307v1M1016.5 306v1M1017.5 305v1M1018.5 304v1M1019.5 303v1M1020.5 302v1M1021.5 301v1M1022.5 300v1M1025.5 298v1M1026.5 297v1M1029.5 295v1M1030.5 294v1M1033.5 292v1M1034.5 291v1M1037.5 289v1M1038.5 288v1M1043.5 285v1M1046.5 283v1M1051.5 280v1M1054.5 278v1M1055.5 277v1M1056.5 276v1M1057.5 275v1M1058.5 273v2M1059.5 272v1M1060.5 271v1M1061.5 270v1M1062.5 269v1M1063.5 268v1M1064.5 266v2M1065.5 265v1M1066.5 264v1M1067.5 263v1M1068.5 261v2M1069.5 260v1M1070.5 259v1M1071.5 257v2M1072.5 256v1M1073.5 255v1M1074.5 253v2M1075.5 252v1M1076.5 251v1M1077.5 249v2M1078.5 248v1M1079.5 246v2M1080.5 245v1M1081.5 244v1M1082.5 242v2M1083.5 241v1M1084.5 240v1M1085.5 238v2M1086.5 237v1M1087.5 236v1M1088.5 234v2M1089.5 233v1M1090.5 232v1M1091.5 231v1M1092.5 229v2M1093.5 228v1M1094.5 227v1M1095.5 225v2M1096.5 223v2M1097.5 222v1M1098.5 220v2M1099.5 219v1M1100.5 217v2M1101.5 215v2M1102.5 214v1M1103.5 212v2M1104.5 211v1M1105.5 209v2M1106.5 208v1M1107.5 206v2M1108.5 205v1M1109.5 203v2M1110.5 202v1" fill="none" stroke="#ff0000" stroke-width="1"/>
<path d="M822 207.5h5M827 208.5h6M833 209.5h4M837 210.5h2M17 219.5h2M849 224.5h2M9 226.5h2M670 228.5h2M5 229.5h2M672 229.5h3M1 230.5h4M667 230.5h2M675 230.5h2M677 231.5h2M663 233.5h2M657 238.5h2M653 241.5h2M651 242.5h2M648 243.5h3M646 244.5h2M644 245.5h2M642 246.5h2M640 247.5h2M638 248.5h2M705 261.5h2M1051 264.5h2M711 266.5h2M713 267.5h2M1047 267.5h2M1045 268.5h2M716 269.5h2M1041 269.5h4M1038 270.5h3M719 271.5h2M1036 271.5h2M1034 272.5h2M1032 273.5h2M723 274.5h2M1030 274.5h2M726 276.5h2M728 277.5h2M779 277.5h2M730 278.5h2M1025 278.5h2M732 279.5h2M734 280.5h2M775 280.5h2M736 281.5h3M739 282.5h2M741 283.5h4M745 284.5h4M749 285.5h6M769 285.5h2M611 286.5h2M755 286.5h6M761 287.5h4M765 288.5h2M607 289.5h2M1006 289.5h9M1004 290.5h2M1001 292.5h2M999 293.5h2M996 295.5h2M993 297.5h2M991 298.5h2M985 303.5h2M139 304.5h8M133 305.5h6M147 305.5h5M129 306.5h4M152 306.5h3M126 307.5h3M155 307.5h2M157 308.5h6M163 309.5h4M121 311.5h2M102 314.5h3M117 314.5h2M105 315.5h4M113 315.5h4M972 315.5h2M109 316.5h4M78 317.5h2M969 317.5h2M80 318.5h3M967 318.5h2M83 319.5h2M85 320.5h4M89 321.5h4M93 322.5h2M502 322.5h3M505 323.5h4M509 324.5h2M511 325.5h2M513 326.5h2M516 328.5h2M519 330.5h2M955 330.5h2M521 331.5h2M524 333.5h2M951 333.5h2M253 334.5h2M526 334.5h2M949 334.5h2M249 335.5h4M528 335.5h2M945 335.5h4M245 336.5h4M530 336.5h2M569 336.5h2M942 336.5h3M243 337.5h2M532 337.5h2M913 337.5h2M940 337.5h2M240 338.5h3M534 338.5h2M238 339.5h2M536 339.5h3M937 339.5h2M236 340.5h2M539 340.5h2M564 340.5h2M935 340.5h2M267 341.5h4M541 341.5h6M562 341.5h2M233 342.5h2M262 342.5h5M271 342.5h2M547 342.5h8M560 342.5h2M919 342.5h2M932 342.5h2M231 343.5h2M273 343.5h2M555 343.5h5M921 343.5h2M929 344.5h2M276 345.5h2M924 345.5h2M927 345.5h2M193 347.5h2M201 354.5h2M206 358.5h2M217 358.5h2M208 359.5h3M211 360.5h2M213 361.5h2M300 369.5h2M298 370.5h2M296 371.5h2M294 372.5h2M310 378.5h5M315 379.5h4M334 414.5h2M336 415.5h2M348 415.5h2M338 416.5h2M346 416.5h2M340 417.5h2M344 417.5h2M342 418.5h2M358 424.5h3M361 425.5h4M365 426.5h10M375 427.5h2M377 428.5h2M380 430.5h2M382 431.5h3M385 432.5h4M389 433.5h2M401 447.5h2M407 452.5h2M409 453.5h2M412 455.5h2M414 456.5h2M416 457.5h3M419 458.5h2M421 459.5h2M423 460.5h2M427 463.5h2M0.5 231v1M7.5 228v1M8.5 227v1M11.5 225v1M12.5 224v1M13.5 223v1M14.5 222v1M15.5 221v1M16.5 220v1M19.5 218v1M20.5 217v1M21.5 216v1M22.5 215v1M23.5 216v1M24.5 217v1M25.5 218v1M26.5 219v2M27.5 221v1M28.5 222v1M29.5 223v1M30.5 224v1M31.5 225v1M32.5 226v1M33.5 227v1M34.5 228v2M35.5 230v1M36.5 231v1M37.5 232v1M38.5 233v2M39.5 235v2M40.5 237v2M41.5 239v2M42.5 241v2M43.5 243v2M44.5 245v2M45.5 247v2M46.5 249v3M47.5 252v3M48.5 255v2M49.5 257v3M50.5 260v3M51.5 263v3M52.5 266v2M53.5 268v3M54.5 271v3M55.5 274v2M56.5 276v2M57.5 278v2M58.5 280v2M59.5 282v2M60.5 284v2M61.5 286v2M62.5 288v2M63.5 290v2M64.5 292v2M65.5 294v2M66.5 296v2M67.5 298v2M68.5 300v2M69.5 302v2M70.5 304v1M71.5 305v2M72.5 307v2M73.5 309v1M74.5 310v2M75.5 312v1M76.5 313v2M77.5 315v2M95.5 321v1M96.5 320v1M97.5 319v1M98.5 318v1M99.5 317v1M100.5 316v1M101.5 315v1M119.5 313v1M120.5 312v1M123.5 310v1M124.5 309v1M125.5 308v1M167.5 310v1M168.5 311v2M169.5 313v1M170.5 314v1M171.5 315v1M172.5 316v2M173.5 318v1M174.5 319v1M175.5 320v2M176.5 322v2M177.5 324v1M178.5 325v2M179.5 327v1M180.5 328v2M181.5 330v2M182.5 332v1M183.5 333v2M184.5 335v1M185.5 336v2M186.5 338v1M187.5 339v2M188.5 341v1M189.5 342v2M190.5 344v1M191.5 345v1M192.5 346v1M195.5 348v1M196.5 349v1M197.5 350v1M198.5 351v1M199.5 352v1M200.5 353v1M203.5 355v1M204.5 356v1M205.5 357v1M215.5 360v1M216.5 359v1M219.5 357v1M220.5 356v1M221.5 355v1M222.5 354v1M223.5 353v1M224.5 351v2M225.5 350v1M226.5 349v1M227.5 348v1M228.5 346v2M229.5 345v1M230.5 344v1M235.5 341v1M255.5 335v1M256.5 336v1M257.5 337v1M258.5 338v1M259.5 339v1M260.5 340v1M261.5 341v1M275.5 344v1M278.5 346v1M279.5 347v2M280.5 349v2M281.5 351v2M282.5 353v2M283.5 355v2M284.5 357v2M285.5 359v2M286.5 361v1M287.5 362v2M288.5 364v1M289.5 365v1M290.5 366v2M291.5 368v1M292.5 369v1M293.5 370v2M302.5 368v1M303.5 369v1M304.5 370v2M305.5 372v1M306.5 373v1M307.5 374v1M308.5 375v2M309.5 377v1M318.5 380v1M319.5 381v2M320.5 383v2M321.5 385v3M322.5 388v2M323.5 390v3M324.5 393v2M325.5 395v2M326.5 397v3M327.5 400v2M328.5 402v2M329.5 404v2M330.5 406v2M331.5 408v2M332.5 410v2M333.5 412v2M350.5 414v1M351.5 415v1M352.5 416v2M353.5 418v1M354.5 419v1M355.5 420v1M356.5 421v2M357.5 423v1M379.5 429v1M391.5 434v2M392.5 436v1M393.5 437v1M394.5 438v2M395.5 440v1M396.5 441v1M397.5 442v2M398.5 444v1M399.5 445v1M400.5 446v1M403.5 448v1M404.5 449v1M405.5 450v1M406.5 451v1M411.5 454v1M425.5 461v1M426.5 462v1M429.5 464v1M430.5 465v1M431.5 463v2M432.5 461v2M433.5 460v1M434.5 458v2M435.5 457v1M436.5 455v2M437.5 453v2M438.5 452v1M439.5 450v2M440.5 448v2M441.5 446v2M442.5 445v1M443.5 443v2M444.5 441v2M445.5 439v2M446.5 437v2M447.5 433v4M448.5 430v3M449.5 426v4M450.5 423v3M451.5 419v4M452.5 416v3M453.5 412v4M454.5 409v3M455.5 407v2M456.5 405v2M457.5 403v2M458.5 401v2M459.5 399v2M460.5 397v2M461.5 395v2M462.5 394v1M463.5 392v2M464.5 390v2M465.5 388v2M466.5 387v1M467.5 385v2M468.5 383v2M469.5 381v2M470.5 379v2M471.5 377v2M472.5 374v3M473.5 372v2M474.5 369v3M475.5 367v2M476.5 364v3M477.5 362v2M478.5 359v3M479.5 357v2M480.5 355v2M481.5 352v3M482.5 350v2M483.5 347v3M484.5 345v2M485.5 343v2M486.5 341v2M487.5 339v2M488.5 338v1M489.5 337v1M490.5 335v2M491.5 334v1M492.5 333v1M493.5 331v2M494.5 330v1M495.5 329v1M496.5 328v1M497.5 327v1M498.5 326v1M499.5 325v1M500.5 324v1M501.5 323v1M515.5 327v1M518.5 329v1M523.5 332v1M566.5 339v1M567.5 338v1M568.5 337v1M571.5 335v1M572.5 334v1M573.5 333v1M574.5 332v1M575.5 330v2M576.5 329v1M577.5 327v2M578.5 326v1M579.5 324v2M580.5 323v1M581.5 321v2M582.5 320v1M583.5 318v2M584.5 317v1M585.5 316v1M586.5 314v2M587.5 313v1M588.5 312v1M589.5 310v2M590.5 309v1M591.5 307v2M592.5 306v1M593.5 305v1M594.5 303v2M595.5 302v1M596.5 301v1M597.5 299v2M598.5 298v1M599.5 297v1M600.5 296v1M601.5 295v1M602.5 294v1M603.5 293v1M604.5 292v1M605.5 291v1M606.5 290v1M609.5 288v1M610.5 287v1M613.5 285v1M614.5 284v1M615.5 283v1M616.5 281v2M617.5 280v1M618.5 279v1M619.5 278v1M620.5 276v2M621.5 275v1M622.5 274v1M623.5 272v2M624.5 270v2M625.5 268v2M626.5 267v1M627.5 265v2M628.5 263v2M629.5 261v2M630.5 260v1M631.5 258v2M632.5 257v1M633.5 255v2M634.5 254v1M635.5 252v2M636.5 251v1M637.5 249v2M655.5 240v1M656.5 239v1M659.5 237v1M660.5 236v1M661.5 235v1M662.5 234v1M665.5 232v1M666.5 231v1M669.5 229v1M679.5 232v1M680.5 233v1M681.5 234v1M682.5 235v2M683.5 237v1M684.5 238v1M685.5 239v1M686.5 240v1M687.5 241v1M688.5 242v2M689.5 244v1M690.5 245v1M691.5 246v1M692.5 247v2M693.5 249v1M694.5 250v1M695.5 251v1M696.5 252v1M697.5 253v1M698.5 254v1M699.5 255v1M700.5 256v1M701.5 257v1M702.5 258v1M703.5 259v1M704.5 260v1M707.5 262v1M708.5 263v1M709.5 264v1M710.5 265v1M715.5 268v1M718.5 270v1M721.5 272v1M722.5 273v1M725.5 275v1M767.5 287v1M768.5 286v1M771.5 284v1M772.5 283v1M773.5 282v1M774.5 281v1M777.5 279v1M778.5 278v1M781.5 276v1M782.5 274v2M783.5 272v2M784.5 270v2M785.5 267v3M786.5 265v2M787.5 262v3M788.5 260v2M789.5 258v2M790.5 256v2M791.5 254v2M792.5 252v2M793.5 251v1M794.5 249v2M795.5 248v1M796.5 246v2M797.5 244v2M798.5 243v1M799.5 241v2M800.5 239v2M801.5 238v1M802.5 236v2M803.5 235v1M804.5 233v2M805.5 231v2M806.5 230v1M807.5 228v2M808.5 227v1M809.5 225v2M810.5 224v1M811.5 222v2M812.5 221v1M813.5 219v2M814.5 218v1M815.5 216v2M816.5 215v1M817.5 214v1M818.5 212v2M819.5 211v1M820.5 210v1M821.5 208v2M839.5 211v2M840.5 213v1M841.5 214v1M842.5 215v2M843.5 217v1M844.5 218v1M845.5 219v2M846.5 221v1M847.5 222v1M848.5 223v1M851.5 225v1M852.5 226v1M853.5 227v1M854.5 228v1M855.5 229v1M856.5 230v1M857.5 231v1M858.5 232v1M859.5 233v1M860.5 234v1M861.5 235v1M862.5 236v2M863.5 238v2M864.5 240v2M865.5 242v2M866.5 244v2M867.5 246v2M868.5 248v2M869.5 250v2M870.5 252v2M871.5 254v3M872.5 257v3M873.5 260v3M874.5 263v2M875.5 265v3M876.5 268v3M877.5 271v3M878.5 274v3M879.5 277v2M880.5 279v2M881.5 281v3M882.5 284v2M883.5 286v3M884.5 289v2M885.5 291v2M886.5 293v2M887.5 295v2M888.5 297v1M889.5 298v2M890.5 300v1M891.5 301v2M892.5 303v1M893.5 304v2M894.5 306v1M895.5 307v2M896.5 309v2M897.5 311v2M898.5 313v1M899.5 314v2M900.5 316v2M901.5 318v2M902.5 320v1M903.5 321v2M904.5 323v2M905.5 325v2M906.5 327v1M907.5 328v2M908.5 330v2M909.5 332v2M910.5 334v1M911.5 335v1M912.5 336v1M915.5 338v1M916.5 339v1M917.5 340v1M918.5 341v1M923.5 344v1M926.5 346v1M931.5 343v1M934.5 341v1M939.5 338v1M953.5 332v1M954.5 331v1M957.5 329v1M958.5 328v1M959.5 327v1M960.5 326v1M961.5 325v1M962.5 323v2M963.5 322v1M964.5 321v1M965.5 320v1M966.5 319v1M971.5 316v1M974.5 314v1M975.5 313v1M976.5 312v1M977.5 311v1M978.5 310v1M979.5 309v1M980.5 308v1M981.5 307v1M982.5 306v1M983.5 305v1M984.5 304v1M987.5 302v1M988.5 301v1M989.5 300v1M990.5 299v1M995.5 296v1M998.5 294v1M1003.5 291v1M1015.5 288v1M1016.5 287v1M1017.5 286v1M1018.5 285v1M1019.5 284v1M1020.5 283v1M1021.5 282v1M1022.5 281v1M1023.5 280v1M1024.5 279v1M1027.5 277v1M1028.5 276v1M1029.5 275v1M1049.5 266v1M1050.5 265v1M1053.5 263v1M1054.5 262v1M1055.5 260v2M1056.5 259v1M1057.5 257v2M1058.5 256v1M1059.5 254v2M1060.5 253v1M1061.5 251v2M1062.5 249v2M1063.5 247v2M1064.5 245v2M1065.5 242v3M1066.5 240v2M1067.5 237v3M1068.5 235v2M1069.5 233v2M1070.5 231v2M1071.5 229v2M1072.5 227v2M1073.5 225v2M1074.5 223v2M1075.5 221v2M1076.5 219v2M1077.5 217v2M1078.5 215v2M1079.5 213v2M1080.5 211v2M1081.5 209v2M1082.5 207v2M1083.5 205v2M1084.5 203v2M1085.5 201v2M1086.5 199v2M1087.5 197v2M1088.5 195v2M1089.5 193v2M1090.5 191v2M1091.5 189v2M1092.5 187v2M1093.5 185v2M1094.5 183v2M1095.5 181v2M1096.5 178v3M1097.5 176v2M1098.5 173v3M1099.5 171v2M1100.5 168v3M1101.5 166v2M1102.5 163v3M1103.5 159v4M1104.5 155v4M1105.5 152v3M1106.5 148v4M1107.5 145v3M1108.5 141v4M1109.5 137v4M1110.5 135v2" fill="none" stroke="#0000cd" stroke-width="1"/>
</g>
<g shape-rendering="crispEdges">
<rect x="889" y="137" width="398" height="5" fill="#99c900"/>
<rect x="887" y="200" width="404" height="4" fill="#2f8de0"/>
</g>
<g shape-rendering="crispEdges">
<rect x="6" y="584" width="1" height="47" fill="#c0c0c0"/>
<rect x="14" y="587" width="1" height="44" fill="#c0c0c0"/>
<rect x="22" y="589" width="1" height="42" fill="#c0c0c0"/>
<rect x="30" y="596" width="1" height="35" fill="#c0c0c0"/>
<rect x="38" y="603" width="1" height="28" fill="#c0c0c0"/>
<rect x="46" y="614" width="1" height="17" fill="#c0c0c0"/>
<rect x="54" y="621" width="1" height="10" fill="#c0c0c0"/>
<rect x="62" y="627" width="1" height="4" fill="#c0c0c0"/>
<rect x="70" y="630" width="1" height="1" fill="#c0c0c0"/>
<rect x="78" y="630" width="1" height="1" fill="#c0c0c0"/>
<rect x="86" y="630" width="1" height="2" fill="#c0c0c0"/>
<rect x="94" y="630" width="1" height="3" fill="#c0c0c0"/>
<rect x="102" y="630" width="1" height="3" fill="#c0c0c0"/>
<rect x="110" y="630" width="1" height="7" fill="#c0c0c0"/>
<rect x="118" y="630" width="1" height="8" fill="#c0c0c0"/>
<rect x="126" y="630" width="1" height="6" fill="#c0c0c0"/>
<rect x="134" y="630" width="1" height="5" fill="#c0c0c0"/>
<rect x="142" y="630" width="1" height="4" fill="#c0c0c0"/>
<rect x="150" y="630" width="1" height="4" fill="#c0c0c0"/>
<rect x="158" y="630" width="1" height="6" fill="#c0c0c0"/>
<rect x="166" y="630" width="1" height="7" fill="#c0c0c0"/>
<rect x="174" y="630" width="1" height="13" fill="#c0c0c0"/>
<rect x="182" y="630" width="1" height="18" fill="#c0c0c0"/>
<rect x="190" y="630" width="1" height="20" fill="#c0c0c0"/>
<rect x="198" y="630" width="1" height="20" fill="#c0c0c0"/>
<rect x="206" y="630" width="1" height="19" fill="#c0c0c0"/>
<rect x="214" y="630" width="1" height="18" fill="#c0c0c0"/>
<rect x="222" y="630" width="1" height="13" fill="#c0c0c0"/>
<rect x="230" y="630" width="1" height="10" fill="#c0c0c0"/>
<rect x="238" y="630" width="1" height="10" fill="#c0c0c0"/>
<rect x="246" y="630" width="1" height="12" fill="#c0c0c0"/>
<rect x="254" y="630" width="1" height="10" fill="#c0c0c0"/>
<rect x="262" y="630" width="1" height="16" fill="#c0c0c0"/>
<rect x="270" y="630" width="1" height="13" fill="#c0c0c0"/>
<rect x="278" y="630" width="1" height="12" fill="#c0c0c0"/>
<rect x="286" y="630" width="1" height="18" fill="#c0c0c0"/>
<rect x="294" y="630" width="1" height="20" fill="#c0c0c0"/>
<rect x="302" y="630" width="1" height="17" fill="#c0c0c0"/>
<rect x="310" y="630" width="1" height="18" fill="#c0c0c0"/>
<rect x="318" y="630" width="1" height="23" fill="#c0c0c0"/>
<rect x="326" y="630" width="1" height="27" fill="#c0c0c0"/>
<rect x="334" y="630" width="1" height="32" fill="#c0c0c0"/>
<rect x="342" y="630" width="1" height="34" fill="#c0c0c0"/>
<rect x="350" y="630" width="1" height="30" fill="#c0c0c0"/>
<rect x="358" y="630" width="1" height="28" fill="#c0c0c0"/>
<rect x="366" y="630" width="1" height="27" fill="#c0c0c0"/>
<rect x="374" y="630" width="1" height="27" fill="#c0c0c0"/>
<rect x="382" y="630" width="1" height="30" fill="#c0c0c0"/>
<rect x="390" y="630" width="1" height="33" fill="#c0c0c0"/>
<rect x="398" y="630" width="1" height="40" fill="#c0c0c0"/>
<rect x="406" y="630" width="1" height="36" fill="#c0c0c0"/>
<rect x="414" y="630" width="1" height="33" fill="#c0c0c0"/>
<rect x="422" y="630" width="1" height="30" fill="#c0c0c0"/>
<rect x="430" y="630" width="1" height="30" fill="#c0c0c0"/>
<rect x="438" y="630" width="1" height="24" fill="#c0c0c0"/>
<rect x="446" y="630" width="1" height="17" fill="#c0c0c0"/>
<rect x="454" y="630" width="1" height="8" fill="#c0c0c0"/>
<rect x="470" y="625" width="1" height="6" fill="#c0c0c0"/>
<rect x="478" y="618" width="1" height="13" fill="#c0c0c0"/>
<rect x="486" y="613" width="1" height="18" fill="#c0c0c0"/>
<rect x="494" y="612" width="1" height="19" fill="#c0c0c0"/>
<rect x="502" y="610" width="1" height="21" fill="#c0c0c0"/>
<rect x="510" y="611" width="1" height="20" fill="#c0c0c0"/>
<rect x="518" y="612" width="1" height="19" fill="#c0c0c0"/>
<rect x="526" y="614" width="1" height="17" fill="#c0c0c0"/>
<rect x="534" y="613" width="1" height="18" fill="#c0c0c0"/>
<rect x="542" y="614" width="1" height="17" fill="#c0c0c0"/>
<rect x="550" y="614" width="1" height="17" fill="#c0c0c0"/>
<rect x="558" y="614" width="1" height="17" fill="#c0c0c0"/>
<rect x="566" y="613" width="1" height="18" fill="#c0c0c0"/>
<rect x="574" y="611" width="1" height="20" fill="#c0c0c0"/>
<rect x="582" y="608" width="1" height="23" fill="#c0c0c0"/>
<rect x="590" y="604" width="1" height="27" fill="#c0c0c0"/>
<rect x="598" y="601" width="1" height="30" fill="#c0c0c0"/>
<rect x="606" y="601" width="1" height="30" fill="#c0c0c0"/>
<rect x="614" y="602" width="1" height="29" fill="#c0c0c0"/>
<rect x="622" y="599" width="1" height="32" fill="#c0c0c0"/>
<rect x="630" y="595" width="1" height="36" fill="#c0c0c0"/>
<rect x="638" y="590" width="1" height="41" fill="#c0c0c0"/>
<rect x="646" y="590" width="1" height="41" fill="#c0c0c0"/>
<rect x="654" y="591" width="1" height="40" fill="#c0c0c0"/>
<rect x="662" y="592" width="1" height="39" fill="#c0c0c0"/>
<rect x="670" y="594" width="1" height="37" fill="#c0c0c0"/>
<rect x="678" y="597" width="1" height="34" fill="#c0c0c0"/>
<rect x="686" y="602" width="1" height="29" fill="#c0c0c0"/>
<rect x="694" y="605" width="1" height="26" fill="#c0c0c0"/>
<rect x="702" y="609" width="1" height="22" fill="#c0c0c0"/>
<rect x="710" y="612" width="1" height="19" fill="#c0c0c0"/>
<rect x="718" y="615" width="1" height="16" fill="#c0c0c0"/>
<rect x="726" y="617" width="1" height="14" fill="#c0c0c0"/>
<rect x="734" y="619" width="1" height="12" fill="#c0c0c0"/>
<rect x="742" y="623" width="1" height="8" fill="#c0c0c0"/>
<rect x="750" y="624" width="1" height="7" fill="#c0c0c0"/>
<rect x="758" y="626" width="1" height="5" fill="#c0c0c0"/>
<rect x="766" y="627" width="1" height="4" fill="#c0c0c0"/>
<rect x="774" y="624" width="1" height="7" fill="#c0c0c0"/>
<rect x="782" y="622" width="1" height="9" fill="#c0c0c0"/>
<rect x="790" y="614" width="1" height="17" fill="#c0c0c0"/>
<rect x="798" y="611" width="1" height="20" fill="#c0c0c0"/>
<rect x="806" y="609" width="1" height="22" fill="#c0c0c0"/>
<rect x="814" y="605" width="1" height="26" fill="#c0c0c0"/>
<rect x="822" y="605" width="1" height="26" fill="#c0c0c0"/>
<rect x="830" y="609" width="1" height="22" fill="#c0c0c0"/>
<rect x="838" y="612" width="1" height="19" fill="#c0c0c0"/>
<rect x="846" y="615" width="1" height="16" fill="#c0c0c0"/>
<rect x="854" y="618" width="1" height="13" fill="#c0c0c0"/>
<rect x="862" y="622" width="1" height="9" fill="#c0c0c0"/>
<rect x="870" y="626" width="1" height="5" fill="#c0c0c0"/>
<rect x="878" y="630" width="1" height="6" fill="#c0c0c0"/>
<rect x="886" y="630" width="1" height="12" fill="#c0c0c0"/>
<rect x="894" y="630" width="1" height="16" fill="#c0c0c0"/>
<rect x="902" y="630" width="1" height="18" fill="#c0c0c0"/>
<rect x="910" y="630" width="1" height="22" fill="#c0c0c0"/>
<rect x="918" y="630" width="1" height="24" fill="#c0c0c0"/>
<rect x="926" y="630" width="1" height="24" fill="#c0c0c0"/>
<rect x="934" y="630" width="1" height="22" fill="#c0c0c0"/>
<rect x="942" y="630" width="1" height="22" fill="#c0c0c0"/>
<rect x="950" y="630" width="1" height="20" fill="#c0c0c0"/>
<rect x="958" y="630" width="1" height="17" fill="#c0c0c0"/>
<rect x="966" y="630" width="1" height="14" fill="#c0c0c0"/>
<rect x="974" y="630" width="1" height="12" fill="#c0c0c0"/>
<rect x="982" y="630" width="1" height="9" fill="#c0c0c0"/>
<rect x="990" y="630" width="1" height="6" fill="#c0c0c0"/>
<rect x="998" y="630" width="1" height="4" fill="#c0c0c0"/>
<rect x="1006" y="630" width="1" height="2" fill="#c0c0c0"/>
<rect x="1014" y="630" width="1" height="1" fill="#c0c0c0"/>
<rect x="1022" y="629" width="1" height="2" fill="#c0c0c0"/>
<rect x="1030" y="626" width="1" height="5" fill="#c0c0c0"/>
<rect x="1038" y="624" width="1" height="7" fill="#c0c0c0"/>
<rect x="1046" y="622" width="1" height="9" fill="#c0c0c0"/>
<rect x="1054" y="620" width="1" height="11" fill="#c0c0c0"/>
<rect x="1062" y="616" width="1" height="15" fill="#c0c0c0"/>
<rect x="1070" y="610" width="1" height="21" fill="#c0c0c0"/>
<rect x="1078" y="601" width="1" height="30" fill="#c0c0c0"/>
<rect x="1086" y="596" width="1" height="35" fill="#c0c0c0"/>
<rect x="1094" y="591" width="1" height="40" fill="#c0c0c0"/>
<rect x="1102" y="584" width="1" height="47" fill="#c0c0c0"/>
<rect x="1110" y="578" width="1" height="53" fill="#c0c0c0"/>
<path d="M4 582.5h3M10 583.5h3M16 584.5h3M22 584.5h3M29 586.5h2M34 587.5h3M40 589.5h2M46 592.5h2M664 594.5h3M670 594.5h3M676 594.5h3M682 594.5h3M688 594.5h3M694 594.5h3M53 595.5h2M658 595.5h3M653 596.5h2M701 596.5h2M706 597.5h3M646 598.5h3M641 599.5h2M713 599.5h2M718 600.5h2M634 601.5h3M629 602.5h2M724 603.5h2M1108 603.5h2M622 605.5h2M617 606.5h2M730 606.5h2M1102 606.5h2M71 607.5h2M611 607.5h2M605 608.5h2M737 609.5h2M76 610.5h2M598 610.5h3M742 610.5h2M851 610.5h2M856 610.5h3M587 611.5h2M592 611.5h3M844 611.5h3M862 611.5h3M539 612.5h2M544 612.5h3M550 612.5h3M556 612.5h3M562 612.5h3M568 612.5h3M574 612.5h3M580 612.5h3M838 612.5h3M868 612.5h3M533 613.5h2M748 613.5h2M832 613.5h3M826 614.5h3M874 614.5h2M1090 614.5h2M526 615.5h3M754 615.5h3M821 615.5h2M1085 616.5h2M520 617.5h3M761 617.5h2M880 617.5h2M89 618.5h2M766 618.5h3M814 618.5h2M803 619.5h2M808 619.5h3M1078 619.5h2M514 620.5h2M773 620.5h2M796 620.5h3M779 621.5h2M784 621.5h3M790 621.5h3M887 621.5h2M95 622.5h2M1073 622.5h2M508 623.5h2M100 625.5h2M1066 625.5h3M503 626.5h2M1061 626.5h2M106 628.5h2M898 628.5h2M1054 628.5h3M1049 629.5h2M113 631.5h2M904 631.5h2M1042 631.5h3M118 632.5h3M1036 633.5h2M125 634.5h2M130 634.5h3M136 634.5h3M142 635.5h3M148 635.5h3M154 635.5h3M160 635.5h3M491 635.5h2M911 635.5h2M166 636.5h3M1030 636.5h2M1025 637.5h2M173 638.5h2M916 638.5h2M179 639.5h2M184 639.5h3M1018 639.5h3M190 640.5h3M484 640.5h2M1013 640.5h2M922 641.5h2M197 642.5h2M1006 642.5h3M203 643.5h2M208 643.5h3M275 643.5h2M280 643.5h3M286 643.5h3M479 643.5h2M214 644.5h3M269 644.5h2M292 644.5h3M928 644.5h2M1000 644.5h3M298 645.5h3M221 646.5h2M226 646.5h3M232 646.5h3M244 646.5h3M250 646.5h3M256 646.5h3M262 646.5h3M304 646.5h3M994 646.5h3M238 647.5h3M310 647.5h3M934 647.5h2M989 647.5h2M316 648.5h3M323 649.5h2M982 649.5h3M329 650.5h2M941 650.5h2M971 650.5h2M976 650.5h3M334 651.5h2M947 651.5h2M952 651.5h3M958 651.5h3M964 651.5h3M466 652.5h2M341 654.5h2M347 655.5h2M352 655.5h3M460 655.5h2M358 656.5h3M364 657.5h3M370 657.5h3M376 658.5h3M454 658.5h2M449 659.5h2M382 660.5h3M388 660.5h3M443 660.5h2M394 661.5h3M436 661.5h3M400 662.5h3M406 662.5h3M412 662.5h3M418 662.5h3M424 662.5h3M430 662.5h3M0.5 581v1M28.5 585v1M42.5 590v1M48.5 593v1M52.5 594v1M58.5 597v1M59.5 598v1M60.5 599v1M64.5 601v1M65.5 602v1M66.5 603v1M70.5 606v1M78.5 611v1M82.5 613v1M83.5 614v1M84.5 615v1M88.5 617v1M94.5 621v1M102.5 626v1M108.5 629v1M112.5 630v1M124.5 633v1M172.5 637v1M178.5 638v1M196.5 641v1M202.5 642v1M220.5 645v1M268.5 645v1M274.5 644v1M322.5 648v1M328.5 649v1M336.5 652v1M340.5 653v1M346.5 654v1M442.5 661v1M448.5 660v1M456.5 657v1M462.5 654v1M468.5 651v1M472.5 649v1M473.5 648v1M474.5 647v1M478.5 644v1M486.5 639v1M490.5 636v1M496.5 632v1M497.5 631v1M498.5 630v1M502.5 627v1M510.5 622v1M516.5 619v1M532.5 614v1M538.5 613v1M586.5 612v1M604.5 609v1M610.5 608v1M616.5 607v1M624.5 604v1M628.5 603v1M640.5 600v1M652.5 597v1M700.5 595v1M712.5 598v1M720.5 601v1M726.5 604v1M732.5 607v1M736.5 608v1M744.5 611v1M750.5 614v1M760.5 616v1M772.5 619v1M778.5 620v1M802.5 620v1M816.5 617v1M820.5 616v1M850.5 611v1M876.5 615v1M882.5 618v1M886.5 620v1M892.5 624v1M893.5 625v1M894.5 626v1M900.5 629v1M906.5 632v1M910.5 634v1M918.5 639v1M924.5 642v1M930.5 645v1M936.5 648v1M940.5 649v1M946.5 650v1M970.5 651v1M988.5 648v1M1012.5 641v1M1024.5 638v1M1032.5 635v1M1038.5 632v1M1048.5 630v1M1060.5 627v1M1072.5 623v1M1080.5 618v1M1084.5 617v1M1092.5 613v1M1096.5 611v1M1097.5 610v1M1098.5 609v1M1104.5 605v1M1110.5 602v1" fill="none" stroke="#ff0000" stroke-width="1"/>
</g>
<g shape-rendering="crispEdges">
<path d="M1102 703.5h9M1099 705.5h2M1078 708.5h3M1095 708.5h2M1076 709.5h2M1081 709.5h4M1091 709.5h4M1085 710.5h6M1073 711.5h2M1071 712.5h2M1067 715.5h2M636 716.5h2M634 717.5h2M632 718.5h2M1063 718.5h2M630 719.5h2M628 720.5h2M595 721.5h4M626 721.5h2M590 722.5h5M624 722.5h2M588 723.5h2M622 723.5h2M586 724.5h2M812 724.5h2M584 725.5h2M810 725.5h2M582 726.5h2M808 726.5h2M580 727.5h2M646 727.5h13M803 727.5h5M578 728.5h2M659 728.5h12M798 728.5h5M19 729.5h4M576 729.5h2M1052 729.5h2M6 730.5h13M475 730.5h13M574 730.5h2M606 730.5h3M774 730.5h5M1029 730.5h12M1050 730.5h2M467 731.5h8M488 731.5h2M572 731.5h2M609 731.5h4M779 731.5h4M1025 731.5h4M1041 731.5h4M1048 731.5h2M459 732.5h8M490 732.5h2M570 732.5h2M613 732.5h2M1022 732.5h3M1045 732.5h3M453 733.5h6M492 733.5h2M499 733.5h4M568 733.5h2M451 734.5h2M494 734.5h5M503 734.5h2M557 734.5h11M448 735.5h3M505 735.5h2M534 735.5h3M555 735.5h2M446 736.5h2M537 736.5h4M552 736.5h3M222 737.5h5M444 737.5h2M508 737.5h2M531 737.5h2M541 737.5h11M678 737.5h2M995 737.5h5M227 738.5h4M510 738.5h3M680 738.5h2M982 738.5h13M1000 738.5h2M441 739.5h2M513 739.5h4M682 739.5h2M958 739.5h2M1002 739.5h2M126 740.5h3M439 740.5h2M517 740.5h6M527 740.5h2M684 740.5h2M691 740.5h6M733 740.5h2M960 740.5h2M1004 740.5h2M1011 740.5h4M129 741.5h4M523 741.5h4M686 741.5h5M697 741.5h4M731 741.5h2M830 741.5h5M962 741.5h2M1006 741.5h5M133 742.5h4M270 742.5h3M701 742.5h22M728 742.5h3M835 742.5h6M964 742.5h2M99 743.5h4M137 743.5h4M273 743.5h4M723 743.5h5M841 743.5h4M966 743.5h2M30 744.5h3M93 744.5h6M121 744.5h2M141 744.5h12M277 744.5h2M750 744.5h5M763 744.5h4M845 744.5h11M968 744.5h3M33 745.5h4M89 745.5h4M153 745.5h4M350 745.5h3M755 745.5h8M856 745.5h2M971 745.5h2M37 746.5h2M78 746.5h11M157 746.5h2M353 746.5h4M406 746.5h18M747 746.5h2M858 746.5h2M973 746.5h2M213 747.5h2M252 747.5h2M357 747.5h6M424 747.5h2M860 747.5h2M75 748.5h2M211 748.5h2M363 748.5h8M426 748.5h2M862 748.5h2M198 749.5h5M208 749.5h3M238 749.5h3M249 749.5h2M371 749.5h4M428 749.5h2M743 749.5h2M864 749.5h2M941 749.5h3M203 750.5h5M241 750.5h4M247 750.5h2M866 750.5h2M939 750.5h2M944 750.5h3M71 751.5h2M113 751.5h2M245 751.5h2M868 751.5h2M936 751.5h3M947 751.5h2M53 752.5h18M310 752.5h3M931 752.5h5M949 752.5h2M51 753.5h2M313 753.5h4M925 753.5h6M48 754.5h3M317 754.5h6M921 754.5h4M46 755.5h2M167 755.5h2M291 755.5h4M323 755.5h5M389 755.5h2M918 755.5h3M286 756.5h5M328 756.5h3M341 756.5h2M387 756.5h2M894 756.5h5M916 756.5h2M331 757.5h2M337 757.5h4M384 757.5h3M899 757.5h5M171 758.5h2M261 758.5h2M333 758.5h4M382 758.5h2M904 758.5h3M913 758.5h2M907 759.5h2M911 759.5h2M174 760.5h17M889 760.5h2M909 760.5h2M397 762.5h2M885 763.5h2M881 764.5h4M878 765.5h3M0.5 722v1M1.5 723v1M2.5 724v2M3.5 726v1M4.5 727v1M5.5 728v2M23.5 730v2M24.5 732v2M25.5 734v2M26.5 736v2M27.5 738v2M28.5 740v2M29.5 742v2M39.5 747v1M40.5 748v1M41.5 749v1M42.5 750v2M43.5 752v1M44.5 753v1M45.5 754v1M73.5 750v1M74.5 749v1M77.5 747v1M103.5 744v2M104.5 746v1M105.5 747v1M106.5 748v2M107.5 750v1M108.5 751v1M109.5 752v2M110.5 754v1M111.5 753v1M112.5 752v1M115.5 750v1M116.5 749v1M117.5 748v1M118.5 747v1M119.5 746v1M120.5 745v1M123.5 743v1M124.5 742v1M125.5 741v1M159.5 747v1M160.5 748v1M161.5 749v1M162.5 750v1M163.5 751v1M164.5 752v1M165.5 753v1M166.5 754v1M169.5 756v1M170.5 757v1M173.5 759v1M191.5 758v2M192.5 757v1M193.5 756v1M194.5 754v2M195.5 753v1M196.5 752v1M197.5 750v2M215.5 746v1M216.5 744v2M217.5 743v1M218.5 742v1M219.5 741v1M220.5 739v2M221.5 738v1M231.5 739v2M232.5 741v1M233.5 742v1M234.5 743v2M235.5 745v1M236.5 746v1M237.5 747v2M251.5 748v1M254.5 746v1M255.5 747v2M256.5 749v2M257.5 751v1M258.5 752v2M259.5 754v1M260.5 755v2M261.5 757v1M262.5 759v1M263.5 756v2M264.5 754v2M265.5 752v2M266.5 750v2M267.5 748v2M268.5 746v2M269.5 744v2M270.5 743v1M279.5 745v2M280.5 747v1M281.5 748v2M282.5 750v1M283.5 751v2M284.5 753v1M285.5 754v2M295.5 753v2M296.5 751v2M297.5 750v1M298.5 748v2M299.5 747v1M300.5 745v2M301.5 743v2M302.5 742v1M303.5 743v1M304.5 744v2M305.5 746v1M306.5 747v1M307.5 748v1M308.5 749v2M309.5 751v1M343.5 754v2M344.5 753v1M345.5 752v1M346.5 750v2M347.5 749v1M348.5 748v1M349.5 746v2M375.5 750v1M376.5 751v1M377.5 752v1M378.5 753v2M379.5 755v1M380.5 756v1M381.5 757v1M391.5 756v1M392.5 757v1M393.5 758v1M394.5 759v1M395.5 760v1M396.5 761v1M398.5 763v1M399.5 760v2M400.5 758v2M401.5 756v2M402.5 754v2M403.5 752v2M404.5 750v2M405.5 748v2M406.5 747v1M430.5 750v1M431.5 749v1M432.5 748v1M433.5 747v1M434.5 745v2M435.5 744v1M436.5 743v1M437.5 742v1M438.5 741v1M443.5 738v1M507.5 736v1M529.5 739v1M530.5 738v1M533.5 736v1M599.5 722v1M600.5 723v1M601.5 724v1M602.5 725v2M603.5 727v1M604.5 728v1M605.5 729v1M615.5 731v1M616.5 730v1M617.5 729v1M618.5 727v2M619.5 726v1M620.5 725v1M621.5 724v1M638.5 715v1M639.5 716v2M640.5 718v1M641.5 719v2M642.5 721v1M643.5 722v2M644.5 724v1M645.5 725v2M671.5 729v1M672.5 730v1M673.5 731v1M674.5 732v2M675.5 734v1M676.5 735v1M677.5 736v1M735.5 741v1M736.5 742v2M737.5 744v1M738.5 745v1M739.5 746v1M740.5 747v2M741.5 749v1M742.5 750v1M745.5 748v1M746.5 747v1M749.5 745v1M767.5 742v2M768.5 740v2M769.5 738v2M770.5 737v1M771.5 735v2M772.5 733v2M773.5 731v2M783.5 729v2M784.5 727v2M785.5 726v1M786.5 724v2M787.5 723v1M788.5 721v2M789.5 719v2M790.5 718v1M791.5 719v1M792.5 720v2M793.5 722v1M794.5 723v1M795.5 724v1M796.5 725v2M797.5 727v1M814.5 723v1M815.5 724v1M816.5 725v1M817.5 726v1M818.5 727v2M819.5 729v1M820.5 730v1M821.5 731v1M822.5 732v1M823.5 733v1M824.5 734v1M825.5 735v1M826.5 736v2M827.5 738v1M828.5 739v1M829.5 740v1M870.5 752v1M871.5 753v2M872.5 755v2M873.5 757v1M874.5 758v2M875.5 760v1M876.5 761v2M877.5 763v2M887.5 762v1M888.5 761v1M891.5 759v1M892.5 758v1M893.5 757v1M915.5 757v1M951.5 750v2M952.5 748v2M953.5 747v1M954.5 745v2M955.5 744v1M956.5 742v2M957.5 740v2M975.5 745v1M976.5 744v1M977.5 743v1M978.5 742v1M979.5 741v1M980.5 740v1M981.5 739v1M1015.5 739v1M1016.5 738v1M1017.5 737v1M1018.5 736v1M1019.5 735v1M1020.5 734v1M1021.5 733v1M1054.5 728v1M1055.5 727v1M1056.5 726v1M1057.5 725v1M1058.5 723v2M1059.5 722v1M1060.5 721v1M1061.5 720v1M1062.5 719v1M1065.5 717v1M1066.5 716v1M1069.5 714v1M1070.5 713v1M1075.5 710v1M1097.5 707v1M1098.5 706v1M1101.5 704v1" fill="none" stroke="#1e90ff" stroke-width="1"/>
</g>
<g style="will-change:transform;transform:translateZ(0)">
<text x="0.5" y="17" class="tf" textLength="12.3" lengthAdjust="spacingAndGlyphs">H4</text>
<text x="29.5" y="17" class="tf" textLength="11.8" lengthAdjust="spacingAndGlyphs">D1</text>
<text x="57" y="17" class="tf" textLength="14.3" lengthAdjust="spacingAndGlyphs">W1</text>
<text x="83.5" y="17" class="tf" textLength="15" lengthAdjust="spacingAndGlyphs">MN</text>
</g>
<text x="13" y="41" class="t" textLength="67.5" lengthAdjust="spacingAndGlyphs">USDCHF-,Daily</text>
<text x="87.5" y="41" class="t" textLength="141" lengthAdjust="spacingAndGlyphs">1.02009 1.02087 1.01998 1.02063</text>
<text x="1419.5" y="42" class="t" textLength="32.5" lengthAdjust="spacingAndGlyphs">1.02480</text>
<text x="1419.5" y="75" class="t" textLength="32.5" lengthAdjust="spacingAndGlyphs">1.02140</text>
<text x="1419.5" y="108" class="t" textLength="32.5" lengthAdjust="spacingAndGlyphs">1.01800</text>
<text x="1419.5" y="141" class="t" textLength="32.5" lengthAdjust="spacingAndGlyphs">1.01460</text>
<text x="1419.5" y="174" class="t" textLength="32.5" lengthAdjust="spacingAndGlyphs">1.01120</text>
<text x="1419.5" y="207" class="t" textLength="32.5" lengthAdjust="spacingAndGlyphs">1.00780</text>
<text x="1419.5" y="240" class="t" textLength="32.5" lengthAdjust="spacingAndGlyphs">1.00440</text>
<text x="1419.5" y="273" class="t" textLength="32.5" lengthAdjust="spacingAndGlyphs">1.00100</text>
<text x="1419.5" y="306" class="t" textLength="32.5" lengthAdjust="spacingAndGlyphs">0.99760</text>
<text x="1419.5" y="339" class="t" textLength="32.5" lengthAdjust="spacingAndGlyphs">0.99420</text>
<text x="1419.5" y="372" class="t" textLength="32.5" lengthAdjust="spacingAndGlyphs">0.99080</text>
<text x="1419.5" y="405" class="t" textLength="32.5" lengthAdjust="spacingAndGlyphs">0.98740</text>
<text x="1419.5" y="438" class="t" textLength="32.5" lengthAdjust="spacingAndGlyphs">0.98400</text>
<text x="1419.5" y="471" class="t" textLength="32.5" lengthAdjust="spacingAndGlyphs">0.98070</text>
<text x="1419.5" y="504" class="t" textLength="32.5" lengthAdjust="spacingAndGlyphs">0.97730</text>
<text x="1419.5" y="537" class="t" textLength="32.5" lengthAdjust="spacingAndGlyphs">0.97390</text>
<text x="1419.5" y="570" class="t" textLength="32.5" lengthAdjust="spacingAndGlyphs">0.97050</text>
<text x="1419.5" y="83" class="t" textLength="32.5" lengthAdjust="spacingAndGlyphs" style="fill:#fff;stroke:#fff">1.02063</text>
<text x="3" y="584" class="t" textLength="146.5" lengthAdjust="spacingAndGlyphs">MACD(12,26,9) 0.005066 0.002792</text>
<text x="1417.3" y="582" class="t" textLength="37.5" lengthAdjust="spacingAndGlyphs">0.005508</text>
<text x="1417.3" y="634" class="t" textLength="17.5" lengthAdjust="spacingAndGlyphs">0.00</text>
<text x="1417.3" y="672" class="t" textLength="41" lengthAdjust="spacingAndGlyphs">-0.004221</text>
<text x="2.5" y="690" class="t" textLength="67" lengthAdjust="spacingAndGlyphs">RSI(14) 80.9257</text>
<text x="1417.3" y="688" class="t" textLength="14.5" lengthAdjust="spacingAndGlyphs">100</text>
<text x="1417.3" y="721" class="t" textLength="9.7" lengthAdjust="spacingAndGlyphs">70</text>
<text x="1417.3" y="772" class="t" textLength="9.7" lengthAdjust="spacingAndGlyphs">30</text>
<text x="1417.3" y="804" class="t" textLength="4.8" lengthAdjust="spacingAndGlyphs">0</text>
<text x="-2.8" y="820" class="t" textLength="54.3" lengthAdjust="spacingAndGlyphs">12 Nov 2018</text>
<text x="61.0" y="820" class="t" textLength="54" lengthAdjust="spacingAndGlyphs">21 Nov 2018</text>
<text x="125.0" y="820" class="t" textLength="54" lengthAdjust="spacingAndGlyphs">30 Nov 2018</text>
<text x="189.0" y="820" class="t" textLength="52.6" lengthAdjust="spacingAndGlyphs">10 Dec 2018</text>
<text x="253.0" y="820" class="t" textLength="52.6" lengthAdjust="spacingAndGlyphs">19 Dec 2018</text>
<text x="317.0" y="820" class="t" textLength="52.4" lengthAdjust="spacingAndGlyphs">28 Dec 2018</text>
<text x="381.0" y="820" class="t" textLength="45" lengthAdjust="spacingAndGlyphs">7 Jan 2019</text>
<text x="445.0" y="820" class="t" textLength="50.2" lengthAdjust="spacingAndGlyphs">16 Jan 2019</text>
<text x="509.0" y="820" class="t" textLength="50.3" lengthAdjust="spacingAndGlyphs">25 Jan 2019</text>
<text x="573.0" y="820" class="t" textLength="47.4" lengthAdjust="spacingAndGlyphs">4 Feb 2019</text>
<text x="637.0" y="820" class="t" textLength="52.2" lengthAdjust="spacingAndGlyphs">13 Feb 2019</text>
<text x="701.0" y="820" class="t" textLength="52.4" lengthAdjust="spacingAndGlyphs">22 Feb 2019</text>
<text x="765.0" y="820" class="t" textLength="47.6" lengthAdjust="spacingAndGlyphs">4 Mar 2019</text>
<text x="829.0" y="820" class="t" textLength="52.4" lengthAdjust="spacingAndGlyphs">13 Mar 2019</text>
<text x="893.0" y="820" class="t" textLength="52.7" lengthAdjust="spacingAndGlyphs">22 Mar 2019</text>
<text x="957.0" y="820" class="t" textLength="46.7" lengthAdjust="spacingAndGlyphs">1 Apr 2019</text>
<text x="1021.0" y="820" class="t" textLength="51.4" lengthAdjust="spacingAndGlyphs">10 Apr 2019</text>
<text x="1085.7" y="820" class="t" textLength="51" lengthAdjust="spacingAndGlyphs">21 Apr 2019</text>
<text x="10.3" y="844.5" class="tab" textLength="84.3" lengthAdjust="spacingAndGlyphs">EURUSD-,Daily</text>
<text x="117.3" y="844.5" class="tab" textLength="86.5" lengthAdjust="spacingAndGlyphs">AUDUSD-,Daily</text>
<text x="227.5" y="844.5" class="tab" textLength="83.1" lengthAdjust="spacingAndGlyphs" style="fill:#000">USDCHF-,Daily</text>
<text x="334.5" y="844.5" class="tab" textLength="85.5" lengthAdjust="spacingAndGlyphs">USDCAD-,Daily</text>
<text x="443.8" y="844.5" class="tab" textLength="87" lengthAdjust="spacingAndGlyphs">USDCNH-,Daily</text>
</svg></body></html>
